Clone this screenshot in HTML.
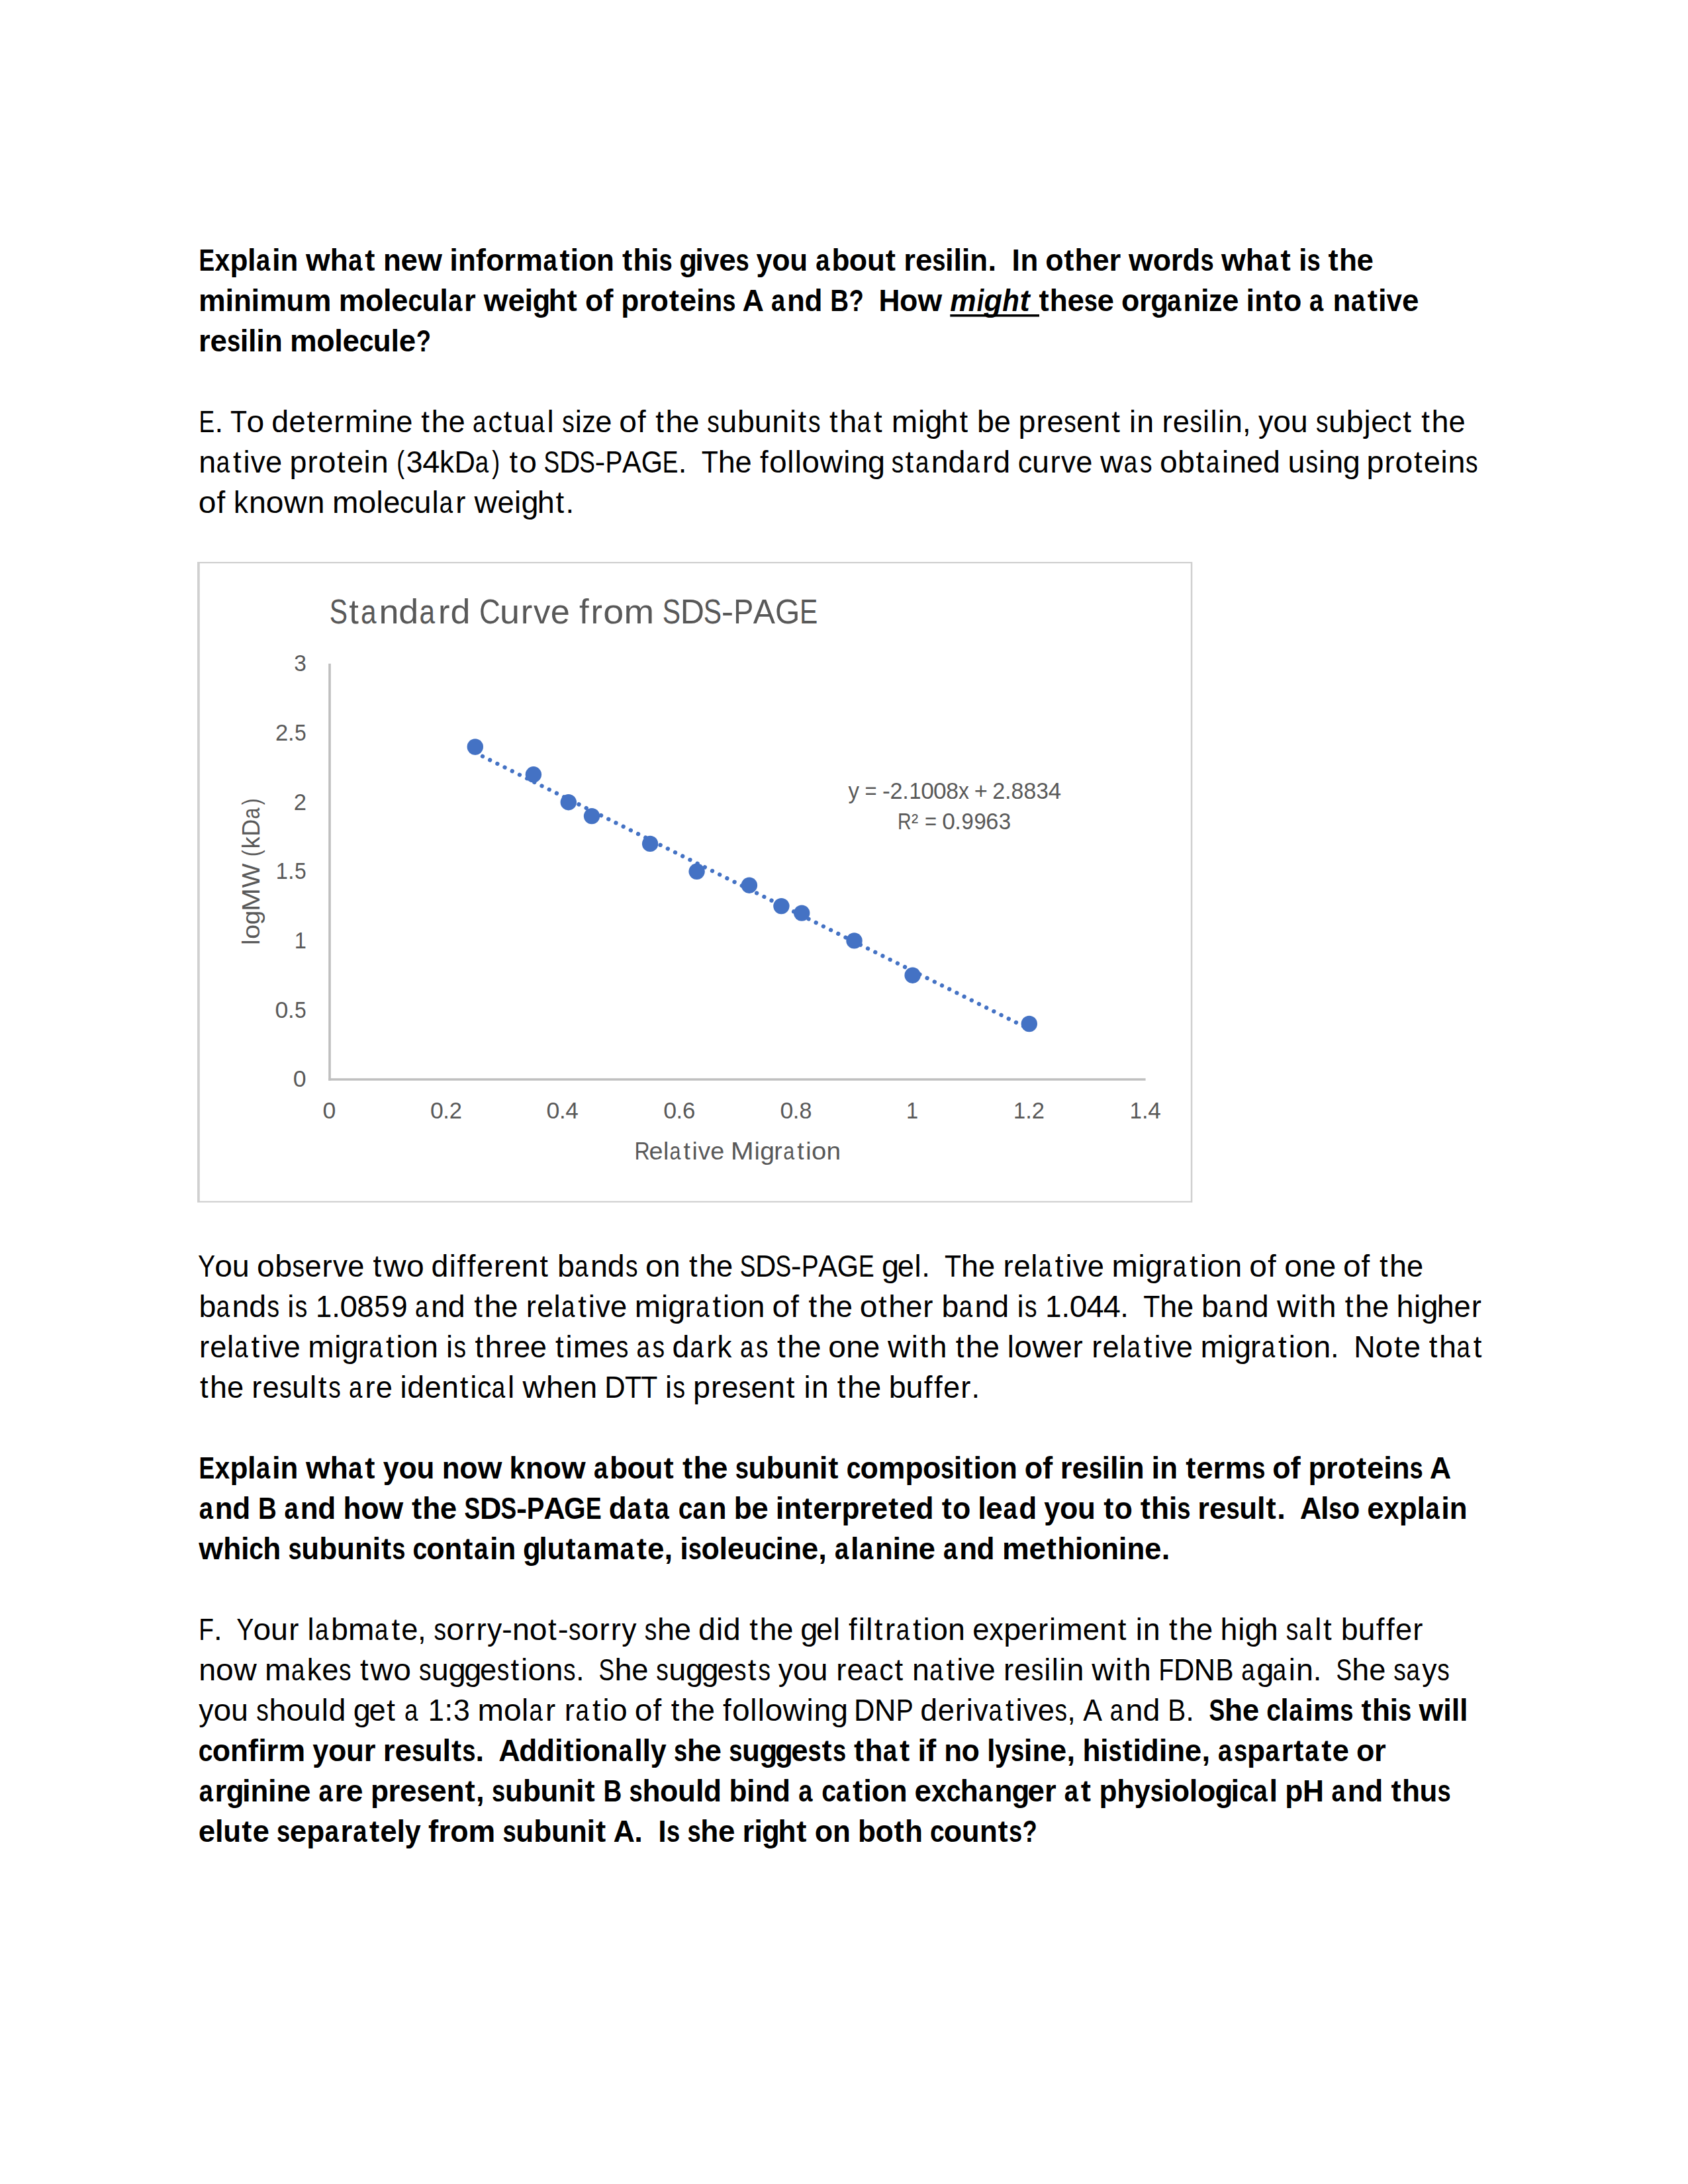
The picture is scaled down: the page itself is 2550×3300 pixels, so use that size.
<!DOCTYPE html><html><head><meta charset="utf-8"><title>Resilin</title><style>html,body{margin:0;padding:0;background:#fff;}svg{display:block;}text{font-family:"Liberation Sans",sans-serif;font-kerning:none;font-variant-ligatures:none;font-feature-settings:"liga" 0,"kern" 0;}</style></head><body>
<svg width="2550" height="3300" viewBox="0 0 2550 3300">
<rect x="0" y="0" width="2550" height="3300" fill="#fff"/>
<text y="408.80" font-size="45.50" font-weight="bold" fill="#000"><tspan x="300.5" textLength="23.67" lengthAdjust="spacingAndGlyphs">E</tspan><tspan x="324.5" textLength="22.77" lengthAdjust="spacingAndGlyphs">x</tspan><tspan x="347.5" textLength="27.02" lengthAdjust="spacingAndGlyphs">p</tspan><tspan x="374.1" textLength="12.56" lengthAdjust="spacingAndGlyphs">l</tspan><tspan x="387.1" textLength="21.19" lengthAdjust="spacingAndGlyphs">a</tspan><tspan x="411.0" textLength="12.64" lengthAdjust="spacingAndGlyphs">i</tspan><tspan x="423.6" textLength="26.81" lengthAdjust="spacingAndGlyphs">n</tspan><tspan x="461.9" textLength="36.68" lengthAdjust="spacingAndGlyphs">w</tspan><tspan x="498.8" textLength="27.02" lengthAdjust="spacingAndGlyphs">h</tspan><tspan x="526.3" textLength="21.19" lengthAdjust="spacingAndGlyphs">a</tspan><tspan x="551.3" textLength="15.15" lengthAdjust="spacingAndGlyphs">t</tspan><tspan x="579.1" textLength="26.81" lengthAdjust="spacingAndGlyphs">n</tspan><tspan x="605.6" textLength="25.47" lengthAdjust="spacingAndGlyphs">e</tspan><tspan x="631.3" textLength="36.68" lengthAdjust="spacingAndGlyphs">w</tspan><tspan x="679.3" textLength="12.64" lengthAdjust="spacingAndGlyphs">i</tspan><tspan x="692.0" textLength="26.81" lengthAdjust="spacingAndGlyphs">n</tspan><tspan x="718.7" textLength="15.15" lengthAdjust="spacingAndGlyphs">f</tspan><tspan x="734.2" textLength="27.35" lengthAdjust="spacingAndGlyphs">o</tspan><tspan x="761.2" textLength="17.71" lengthAdjust="spacingAndGlyphs">r</tspan><tspan x="779.2" textLength="40.69" lengthAdjust="spacingAndGlyphs">m</tspan><tspan x="820.5" textLength="21.19" lengthAdjust="spacingAndGlyphs">a</tspan><tspan x="845.4" textLength="15.15" lengthAdjust="spacingAndGlyphs">t</tspan><tspan x="861.6" textLength="12.64" lengthAdjust="spacingAndGlyphs">i</tspan><tspan x="873.9" textLength="27.35" lengthAdjust="spacingAndGlyphs">o</tspan><tspan x="901.1" textLength="26.81" lengthAdjust="spacingAndGlyphs">n</tspan><tspan x="940.1" textLength="15.15" lengthAdjust="spacingAndGlyphs">t</tspan><tspan x="956.4" textLength="27.02" lengthAdjust="spacingAndGlyphs">h</tspan><tspan x="983.1" textLength="12.64" lengthAdjust="spacingAndGlyphs">i</tspan><tspan x="995.5" textLength="20.20" lengthAdjust="spacingAndGlyphs">s</tspan><tspan x="1026.2" textLength="26.75" lengthAdjust="spacingAndGlyphs">g</tspan><tspan x="1050.3" textLength="12.64" lengthAdjust="spacingAndGlyphs">i</tspan><tspan x="1062.9" textLength="23.47" lengthAdjust="spacingAndGlyphs">v</tspan><tspan x="1086.2" textLength="25.47" lengthAdjust="spacingAndGlyphs">e</tspan><tspan x="1111.6" textLength="20.20" lengthAdjust="spacingAndGlyphs">s</tspan><tspan x="1142.6" textLength="23.93" lengthAdjust="spacingAndGlyphs">y</tspan><tspan x="1166.3" textLength="27.35" lengthAdjust="spacingAndGlyphs">o</tspan><tspan x="1193.3" textLength="26.81" lengthAdjust="spacingAndGlyphs">u</tspan><tspan x="1232.2" textLength="21.19" lengthAdjust="spacingAndGlyphs">a</tspan><tspan x="1256.4" textLength="26.99" lengthAdjust="spacingAndGlyphs">b</tspan><tspan x="1282.8" textLength="27.35" lengthAdjust="spacingAndGlyphs">o</tspan><tspan x="1309.9" textLength="26.81" lengthAdjust="spacingAndGlyphs">u</tspan><tspan x="1337.7" textLength="15.15" lengthAdjust="spacingAndGlyphs">t</tspan><tspan x="1365.3" textLength="17.71" lengthAdjust="spacingAndGlyphs">r</tspan><tspan x="1383.0" textLength="25.47" lengthAdjust="spacingAndGlyphs">e</tspan><tspan x="1408.3" textLength="20.20" lengthAdjust="spacingAndGlyphs">s</tspan><tspan x="1428.1" textLength="12.64" lengthAdjust="spacingAndGlyphs">i</tspan><tspan x="1440.5" textLength="12.56" lengthAdjust="spacingAndGlyphs">l</tspan><tspan x="1452.7" textLength="12.64" lengthAdjust="spacingAndGlyphs">i</tspan><tspan x="1465.3" textLength="26.81" lengthAdjust="spacingAndGlyphs">n</tspan><tspan x="1492.4" textLength="12.64" lengthAdjust="spacingAndGlyphs">.</tspan><tspan x="1528.4" textLength="12.43" lengthAdjust="spacingAndGlyphs">I</tspan><tspan x="1541.4" textLength="26.81" lengthAdjust="spacingAndGlyphs">n</tspan><tspan x="1579.2" textLength="27.35" lengthAdjust="spacingAndGlyphs">o</tspan><tspan x="1607.3" textLength="15.15" lengthAdjust="spacingAndGlyphs">t</tspan><tspan x="1623.6" textLength="27.02" lengthAdjust="spacingAndGlyphs">h</tspan><tspan x="1650.2" textLength="25.47" lengthAdjust="spacingAndGlyphs">e</tspan><tspan x="1675.5" textLength="17.71" lengthAdjust="spacingAndGlyphs">r</tspan><tspan x="1705.0" textLength="36.68" lengthAdjust="spacingAndGlyphs">w</tspan><tspan x="1741.7" textLength="27.35" lengthAdjust="spacingAndGlyphs">o</tspan><tspan x="1768.7" textLength="17.71" lengthAdjust="spacingAndGlyphs">r</tspan><tspan x="1786.3" textLength="26.99" lengthAdjust="spacingAndGlyphs">d</tspan><tspan x="1813.4" textLength="20.20" lengthAdjust="spacingAndGlyphs">s</tspan><tspan x="1845.0" textLength="36.68" lengthAdjust="spacingAndGlyphs">w</tspan><tspan x="1881.9" textLength="27.02" lengthAdjust="spacingAndGlyphs">h</tspan><tspan x="1909.5" textLength="21.19" lengthAdjust="spacingAndGlyphs">a</tspan><tspan x="1934.4" textLength="15.15" lengthAdjust="spacingAndGlyphs">t</tspan><tspan x="1961.9" textLength="12.64" lengthAdjust="spacingAndGlyphs">i</tspan><tspan x="1974.4" textLength="20.20" lengthAdjust="spacingAndGlyphs">s</tspan><tspan x="2006.6" textLength="15.15" lengthAdjust="spacingAndGlyphs">t</tspan><tspan x="2022.9" textLength="27.02" lengthAdjust="spacingAndGlyphs">h</tspan><tspan x="2049.6" textLength="25.47" lengthAdjust="spacingAndGlyphs">e</tspan></text>
<text y="469.80" font-size="45.50" font-weight="bold" fill="#000"><tspan x="300.1" textLength="40.69" lengthAdjust="spacingAndGlyphs">m</tspan><tspan x="340.5" textLength="12.64" lengthAdjust="spacingAndGlyphs">i</tspan><tspan x="353.1" textLength="26.81" lengthAdjust="spacingAndGlyphs">n</tspan><tspan x="379.6" textLength="12.64" lengthAdjust="spacingAndGlyphs">i</tspan><tspan x="392.2" textLength="40.69" lengthAdjust="spacingAndGlyphs">m</tspan><tspan x="432.6" textLength="26.81" lengthAdjust="spacingAndGlyphs">u</tspan><tspan x="459.7" textLength="40.69" lengthAdjust="spacingAndGlyphs">m</tspan><tspan x="511.7" textLength="40.69" lengthAdjust="spacingAndGlyphs">m</tspan><tspan x="552.0" textLength="27.35" lengthAdjust="spacingAndGlyphs">o</tspan><tspan x="579.0" textLength="12.56" lengthAdjust="spacingAndGlyphs">l</tspan><tspan x="591.1" textLength="25.47" lengthAdjust="spacingAndGlyphs">e</tspan><tspan x="616.4" textLength="21.74" lengthAdjust="spacingAndGlyphs">c</tspan><tspan x="637.4" textLength="26.81" lengthAdjust="spacingAndGlyphs">u</tspan><tspan x="664.2" textLength="12.56" lengthAdjust="spacingAndGlyphs">l</tspan><tspan x="677.3" textLength="21.19" lengthAdjust="spacingAndGlyphs">a</tspan><tspan x="701.1" textLength="17.71" lengthAdjust="spacingAndGlyphs">r</tspan><tspan x="730.7" textLength="36.68" lengthAdjust="spacingAndGlyphs">w</tspan><tspan x="767.4" textLength="25.47" lengthAdjust="spacingAndGlyphs">e</tspan><tspan x="792.6" textLength="12.64" lengthAdjust="spacingAndGlyphs">i</tspan><tspan x="804.4" textLength="26.75" lengthAdjust="spacingAndGlyphs">g</tspan><tspan x="828.7" textLength="27.02" lengthAdjust="spacingAndGlyphs">h</tspan><tspan x="856.5" textLength="15.15" lengthAdjust="spacingAndGlyphs">t</tspan><tspan x="884.0" textLength="27.35" lengthAdjust="spacingAndGlyphs">o</tspan><tspan x="911.2" textLength="15.15" lengthAdjust="spacingAndGlyphs">f</tspan><tspan x="938.3" textLength="27.02" lengthAdjust="spacingAndGlyphs">p</tspan><tspan x="964.9" textLength="17.71" lengthAdjust="spacingAndGlyphs">r</tspan><tspan x="982.6" textLength="27.35" lengthAdjust="spacingAndGlyphs">o</tspan><tspan x="1010.7" textLength="15.15" lengthAdjust="spacingAndGlyphs">t</tspan><tspan x="1026.8" textLength="25.47" lengthAdjust="spacingAndGlyphs">e</tspan><tspan x="1052.0" textLength="12.64" lengthAdjust="spacingAndGlyphs">i</tspan><tspan x="1064.6" textLength="26.81" lengthAdjust="spacingAndGlyphs">n</tspan><tspan x="1091.3" textLength="20.20" lengthAdjust="spacingAndGlyphs">s</tspan><tspan x="1121.6" textLength="32.48" lengthAdjust="spacingAndGlyphs">A</tspan><tspan x="1164.9" textLength="21.19" lengthAdjust="spacingAndGlyphs">a</tspan><tspan x="1189.0" textLength="26.81" lengthAdjust="spacingAndGlyphs">n</tspan><tspan x="1215.4" textLength="26.99" lengthAdjust="spacingAndGlyphs">d</tspan><tspan x="1254.2" textLength="27.81" lengthAdjust="spacingAndGlyphs">B</tspan><tspan x="1282.6" textLength="22.22" lengthAdjust="spacingAndGlyphs">?</tspan><tspan x="1327.4" textLength="31.97" lengthAdjust="spacingAndGlyphs">H</tspan><tspan x="1358.9" textLength="27.35" lengthAdjust="spacingAndGlyphs">o</tspan><tspan x="1386.4" textLength="36.68" lengthAdjust="spacingAndGlyphs">w</tspan></text>
<text y="469.80" font-size="45.50" font-weight="bold" font-style="italic" fill="#000"><tspan x="1435.2" textLength="39.36" lengthAdjust="spacingAndGlyphs">m</tspan><tspan x="1475.8" textLength="10.47" lengthAdjust="spacingAndGlyphs">i</tspan><tspan x="1486.4" textLength="27.47" lengthAdjust="spacingAndGlyphs">g</tspan><tspan x="1514.2" textLength="25.62" lengthAdjust="spacingAndGlyphs">h</tspan><tspan x="1540.4" textLength="15.15" lengthAdjust="spacingAndGlyphs">t</tspan></text>
<rect x="1435.3" y="475" width="134.7" height="3.6" fill="#000"/>
<text y="469.80" font-size="45.50" font-weight="bold" fill="#000"><tspan x="1569.4" textLength="15.15" lengthAdjust="spacingAndGlyphs">t</tspan><tspan x="1585.8" textLength="27.02" lengthAdjust="spacingAndGlyphs">h</tspan><tspan x="1612.4" textLength="25.47" lengthAdjust="spacingAndGlyphs">e</tspan><tspan x="1637.8" textLength="20.20" lengthAdjust="spacingAndGlyphs">s</tspan><tspan x="1657.5" textLength="25.47" lengthAdjust="spacingAndGlyphs">e</tspan><tspan x="1694.0" textLength="27.35" lengthAdjust="spacingAndGlyphs">o</tspan><tspan x="1721.0" textLength="17.71" lengthAdjust="spacingAndGlyphs">r</tspan><tspan x="1738.2" textLength="26.75" lengthAdjust="spacingAndGlyphs">g</tspan><tspan x="1763.3" textLength="21.19" lengthAdjust="spacingAndGlyphs">a</tspan><tspan x="1787.4" textLength="26.81" lengthAdjust="spacingAndGlyphs">n</tspan><tspan x="1813.9" textLength="12.64" lengthAdjust="spacingAndGlyphs">i</tspan><tspan x="1826.1" textLength="20.33" lengthAdjust="spacingAndGlyphs">z</tspan><tspan x="1846.0" textLength="25.47" lengthAdjust="spacingAndGlyphs">e</tspan><tspan x="1882.5" textLength="12.64" lengthAdjust="spacingAndGlyphs">i</tspan><tspan x="1895.2" textLength="26.81" lengthAdjust="spacingAndGlyphs">n</tspan><tspan x="1922.8" textLength="15.15" lengthAdjust="spacingAndGlyphs">t</tspan><tspan x="1938.9" textLength="27.35" lengthAdjust="spacingAndGlyphs">o</tspan><tspan x="1978.0" textLength="21.19" lengthAdjust="spacingAndGlyphs">a</tspan><tspan x="2013.5" textLength="26.81" lengthAdjust="spacingAndGlyphs">n</tspan><tspan x="2040.9" textLength="21.19" lengthAdjust="spacingAndGlyphs">a</tspan><tspan x="2065.8" textLength="15.15" lengthAdjust="spacingAndGlyphs">t</tspan><tspan x="2082.0" textLength="12.64" lengthAdjust="spacingAndGlyphs">i</tspan><tspan x="2094.6" textLength="23.47" lengthAdjust="spacingAndGlyphs">v</tspan><tspan x="2117.9" textLength="25.47" lengthAdjust="spacingAndGlyphs">e</tspan></text>
<text y="530.80" font-size="45.50" font-weight="bold" fill="#000"><tspan x="299.9" textLength="17.71" lengthAdjust="spacingAndGlyphs">r</tspan><tspan x="317.5" textLength="25.47" lengthAdjust="spacingAndGlyphs">e</tspan><tspan x="342.9" textLength="20.20" lengthAdjust="spacingAndGlyphs">s</tspan><tspan x="362.7" textLength="12.64" lengthAdjust="spacingAndGlyphs">i</tspan><tspan x="375.1" textLength="12.56" lengthAdjust="spacingAndGlyphs">l</tspan><tspan x="387.3" textLength="12.64" lengthAdjust="spacingAndGlyphs">i</tspan><tspan x="399.9" textLength="26.81" lengthAdjust="spacingAndGlyphs">n</tspan><tspan x="438.0" textLength="40.69" lengthAdjust="spacingAndGlyphs">m</tspan><tspan x="478.3" textLength="27.35" lengthAdjust="spacingAndGlyphs">o</tspan><tspan x="505.3" textLength="12.56" lengthAdjust="spacingAndGlyphs">l</tspan><tspan x="517.4" textLength="25.47" lengthAdjust="spacingAndGlyphs">e</tspan><tspan x="542.7" textLength="21.74" lengthAdjust="spacingAndGlyphs">c</tspan><tspan x="563.7" textLength="26.81" lengthAdjust="spacingAndGlyphs">u</tspan><tspan x="590.5" textLength="12.56" lengthAdjust="spacingAndGlyphs">l</tspan><tspan x="602.7" textLength="25.47" lengthAdjust="spacingAndGlyphs">e</tspan><tspan x="628.8" textLength="22.22" lengthAdjust="spacingAndGlyphs">?</tspan></text>
<text y="652.80" font-size="45.50" fill="#000"><tspan x="300.4" textLength="23.67" lengthAdjust="spacingAndGlyphs">E</tspan><tspan x="324.4" textLength="12.64" lengthAdjust="spacingAndGlyphs">.</tspan><tspan x="348.0" textLength="25.06" lengthAdjust="spacingAndGlyphs">T</tspan><tspan x="372.5" textLength="26.74" lengthAdjust="spacingAndGlyphs">o</tspan><tspan x="410.2" textLength="25.91" lengthAdjust="spacingAndGlyphs">d</tspan><tspan x="436.6" textLength="25.17" lengthAdjust="spacingAndGlyphs">e</tspan><tspan x="463.4" textLength="12.64" lengthAdjust="spacingAndGlyphs">t</tspan><tspan x="478.2" textLength="25.17" lengthAdjust="spacingAndGlyphs">e</tspan><tspan x="504.3" textLength="15.15" lengthAdjust="spacingAndGlyphs">r</tspan><tspan x="521.0" textLength="39.42" lengthAdjust="spacingAndGlyphs">m</tspan><tspan x="561.2" textLength="10.11" lengthAdjust="spacingAndGlyphs">i</tspan><tspan x="572.3" textLength="25.92" lengthAdjust="spacingAndGlyphs">n</tspan><tspan x="598.2" textLength="25.17" lengthAdjust="spacingAndGlyphs">e</tspan><tspan x="636.3" textLength="12.64" lengthAdjust="spacingAndGlyphs">t</tspan><tspan x="651.4" textLength="26.01" lengthAdjust="spacingAndGlyphs">h</tspan><tspan x="677.4" textLength="25.17" lengthAdjust="spacingAndGlyphs">e</tspan><tspan x="714.1" textLength="20.38" lengthAdjust="spacingAndGlyphs">a</tspan><tspan x="737.5" textLength="21.43" lengthAdjust="spacingAndGlyphs">c</tspan><tspan x="760.6" textLength="12.64" lengthAdjust="spacingAndGlyphs">t</tspan><tspan x="775.5" textLength="25.92" lengthAdjust="spacingAndGlyphs">u</tspan><tspan x="802.3" textLength="20.38" lengthAdjust="spacingAndGlyphs">a</tspan><tspan x="826.4" textLength="10.11" lengthAdjust="spacingAndGlyphs">l</tspan><tspan x="849.2" textLength="18.53" lengthAdjust="spacingAndGlyphs">s</tspan><tspan x="868.7" textLength="10.11" lengthAdjust="spacingAndGlyphs">i</tspan><tspan x="879.3" textLength="20.53" lengthAdjust="spacingAndGlyphs">z</tspan><tspan x="899.2" textLength="25.17" lengthAdjust="spacingAndGlyphs">e</tspan><tspan x="935.3" textLength="26.74" lengthAdjust="spacingAndGlyphs">o</tspan><tspan x="962.9" textLength="12.64" lengthAdjust="spacingAndGlyphs">f</tspan><tspan x="990.2" textLength="12.64" lengthAdjust="spacingAndGlyphs">t</tspan><tspan x="1005.4" textLength="26.01" lengthAdjust="spacingAndGlyphs">h</tspan><tspan x="1031.3" textLength="25.17" lengthAdjust="spacingAndGlyphs">e</tspan><tspan x="1068.3" textLength="18.53" lengthAdjust="spacingAndGlyphs">s</tspan><tspan x="1087.2" textLength="25.92" lengthAdjust="spacingAndGlyphs">u</tspan><tspan x="1113.9" textLength="25.91" lengthAdjust="spacingAndGlyphs">b</tspan><tspan x="1139.7" textLength="25.92" lengthAdjust="spacingAndGlyphs">u</tspan><tspan x="1166.3" textLength="25.92" lengthAdjust="spacingAndGlyphs">n</tspan><tspan x="1192.9" textLength="10.11" lengthAdjust="spacingAndGlyphs">i</tspan><tspan x="1205.5" textLength="12.64" lengthAdjust="spacingAndGlyphs">t</tspan><tspan x="1221.1" textLength="18.53" lengthAdjust="spacingAndGlyphs">s</tspan><tspan x="1253.1" textLength="12.64" lengthAdjust="spacingAndGlyphs">t</tspan><tspan x="1268.3" textLength="26.01" lengthAdjust="spacingAndGlyphs">h</tspan><tspan x="1294.8" textLength="20.38" lengthAdjust="spacingAndGlyphs">a</tspan><tspan x="1320.1" textLength="12.64" lengthAdjust="spacingAndGlyphs">t</tspan><tspan x="1346.8" textLength="39.42" lengthAdjust="spacingAndGlyphs">m</tspan><tspan x="1386.9" textLength="10.11" lengthAdjust="spacingAndGlyphs">i</tspan><tspan x="1397.3" textLength="26.09" lengthAdjust="spacingAndGlyphs">g</tspan><tspan x="1421.5" textLength="26.01" lengthAdjust="spacingAndGlyphs">h</tspan><tspan x="1449.4" textLength="12.64" lengthAdjust="spacingAndGlyphs">t</tspan><tspan x="1476.1" textLength="25.91" lengthAdjust="spacingAndGlyphs">b</tspan><tspan x="1501.8" textLength="25.17" lengthAdjust="spacingAndGlyphs">e</tspan><tspan x="1538.5" textLength="26.00" lengthAdjust="spacingAndGlyphs">p</tspan><tspan x="1565.4" textLength="15.15" lengthAdjust="spacingAndGlyphs">r</tspan><tspan x="1581.6" textLength="25.17" lengthAdjust="spacingAndGlyphs">e</tspan><tspan x="1607.3" textLength="18.53" lengthAdjust="spacingAndGlyphs">s</tspan><tspan x="1626.1" textLength="25.17" lengthAdjust="spacingAndGlyphs">e</tspan><tspan x="1651.4" textLength="25.92" lengthAdjust="spacingAndGlyphs">n</tspan><tspan x="1679.2" textLength="12.64" lengthAdjust="spacingAndGlyphs">t</tspan><tspan x="1706.0" textLength="10.11" lengthAdjust="spacingAndGlyphs">i</tspan><tspan x="1717.2" textLength="25.92" lengthAdjust="spacingAndGlyphs">n</tspan><tspan x="1755.5" textLength="15.15" lengthAdjust="spacingAndGlyphs">r</tspan><tspan x="1771.8" textLength="25.17" lengthAdjust="spacingAndGlyphs">e</tspan><tspan x="1797.4" textLength="18.53" lengthAdjust="spacingAndGlyphs">s</tspan><tspan x="1816.9" textLength="10.11" lengthAdjust="spacingAndGlyphs">i</tspan><tspan x="1828.4" textLength="10.11" lengthAdjust="spacingAndGlyphs">l</tspan><tspan x="1839.9" textLength="10.11" lengthAdjust="spacingAndGlyphs">i</tspan><tspan x="1851.0" textLength="25.92" lengthAdjust="spacingAndGlyphs">n</tspan><tspan x="1877.0" textLength="12.64" lengthAdjust="spacingAndGlyphs">,</tspan><tspan x="1900.9" textLength="22.22" lengthAdjust="spacingAndGlyphs">y</tspan><tspan x="1923.2" textLength="26.74" lengthAdjust="spacingAndGlyphs">o</tspan><tspan x="1949.8" textLength="25.92" lengthAdjust="spacingAndGlyphs">u</tspan><tspan x="1988.0" textLength="18.53" lengthAdjust="spacingAndGlyphs">s</tspan><tspan x="2006.9" textLength="25.92" lengthAdjust="spacingAndGlyphs">u</tspan><tspan x="2033.7" textLength="25.91" lengthAdjust="spacingAndGlyphs">b</tspan><tspan x="2060.4" textLength="10.11" lengthAdjust="spacingAndGlyphs">j</tspan><tspan x="2071.3" textLength="25.17" lengthAdjust="spacingAndGlyphs">e</tspan><tspan x="2096.1" textLength="21.43" lengthAdjust="spacingAndGlyphs">c</tspan><tspan x="2119.3" textLength="12.64" lengthAdjust="spacingAndGlyphs">t</tspan><tspan x="2147.3" textLength="12.64" lengthAdjust="spacingAndGlyphs">t</tspan><tspan x="2162.5" textLength="26.01" lengthAdjust="spacingAndGlyphs">h</tspan><tspan x="2188.4" textLength="25.17" lengthAdjust="spacingAndGlyphs">e</tspan></text>
<text y="713.80" font-size="45.50" fill="#000"><tspan x="300.3" textLength="25.92" lengthAdjust="spacingAndGlyphs">n</tspan><tspan x="326.8" textLength="20.38" lengthAdjust="spacingAndGlyphs">a</tspan><tspan x="352.1" textLength="12.64" lengthAdjust="spacingAndGlyphs">t</tspan><tspan x="367.6" textLength="10.11" lengthAdjust="spacingAndGlyphs">i</tspan><tspan x="378.8" textLength="21.96" lengthAdjust="spacingAndGlyphs">v</tspan><tspan x="400.9" textLength="25.17" lengthAdjust="spacingAndGlyphs">e</tspan><tspan x="437.6" textLength="26.00" lengthAdjust="spacingAndGlyphs">p</tspan><tspan x="464.6" textLength="15.15" lengthAdjust="spacingAndGlyphs">r</tspan><tspan x="480.7" textLength="26.74" lengthAdjust="spacingAndGlyphs">o</tspan><tspan x="509.1" textLength="12.64" lengthAdjust="spacingAndGlyphs">t</tspan><tspan x="523.9" textLength="25.17" lengthAdjust="spacingAndGlyphs">e</tspan><tspan x="549.6" textLength="10.11" lengthAdjust="spacingAndGlyphs">i</tspan><tspan x="560.7" textLength="25.92" lengthAdjust="spacingAndGlyphs">n</tspan><tspan x="599.3" textLength="11.82" lengthAdjust="spacingAndGlyphs">(</tspan><tspan x="613.7" textLength="24.77" lengthAdjust="spacingAndGlyphs">3</tspan><tspan x="638.2" textLength="26.11" lengthAdjust="spacingAndGlyphs">4</tspan><tspan x="664.0" textLength="21.88" lengthAdjust="spacingAndGlyphs">k</tspan><tspan x="686.4" textLength="31.35" lengthAdjust="spacingAndGlyphs">D</tspan><tspan x="717.8" textLength="20.38" lengthAdjust="spacingAndGlyphs">a</tspan><tspan x="743.3" textLength="11.82" lengthAdjust="spacingAndGlyphs">)</tspan><tspan x="769.6" textLength="12.64" lengthAdjust="spacingAndGlyphs">t</tspan><tspan x="784.3" textLength="26.74" lengthAdjust="spacingAndGlyphs">o</tspan><tspan x="821.6" textLength="23.67" lengthAdjust="spacingAndGlyphs">S</tspan><tspan x="844.9" textLength="31.35" lengthAdjust="spacingAndGlyphs">D</tspan><tspan x="875.3" textLength="23.67" lengthAdjust="spacingAndGlyphs">S</tspan><tspan x="898.5" textLength="15.92" lengthAdjust="spacingAndGlyphs">-</tspan><tspan x="914.5" textLength="25.91" lengthAdjust="spacingAndGlyphs">P</tspan><tspan x="940.1" textLength="28.73" lengthAdjust="spacingAndGlyphs">A</tspan><tspan x="968.7" textLength="32.23" lengthAdjust="spacingAndGlyphs">G</tspan><tspan x="1000.8" textLength="23.67" lengthAdjust="spacingAndGlyphs">E</tspan><tspan x="1024.8" textLength="12.64" lengthAdjust="spacingAndGlyphs">.</tspan><tspan x="1059.7" textLength="25.06" lengthAdjust="spacingAndGlyphs">T</tspan><tspan x="1084.7" textLength="26.01" lengthAdjust="spacingAndGlyphs">h</tspan><tspan x="1110.6" textLength="25.17" lengthAdjust="spacingAndGlyphs">e</tspan><tspan x="1148.0" textLength="12.64" lengthAdjust="spacingAndGlyphs">f</tspan><tspan x="1162.0" textLength="26.74" lengthAdjust="spacingAndGlyphs">o</tspan><tspan x="1189.2" textLength="10.11" lengthAdjust="spacingAndGlyphs">l</tspan><tspan x="1200.7" textLength="10.11" lengthAdjust="spacingAndGlyphs">l</tspan><tspan x="1211.3" textLength="26.74" lengthAdjust="spacingAndGlyphs">o</tspan><tspan x="1238.4" textLength="34.53" lengthAdjust="spacingAndGlyphs">w</tspan><tspan x="1274.2" textLength="10.11" lengthAdjust="spacingAndGlyphs">i</tspan><tspan x="1285.4" textLength="25.92" lengthAdjust="spacingAndGlyphs">n</tspan><tspan x="1310.9" textLength="26.09" lengthAdjust="spacingAndGlyphs">g</tspan><tspan x="1346.8" textLength="18.53" lengthAdjust="spacingAndGlyphs">s</tspan><tspan x="1367.6" textLength="12.64" lengthAdjust="spacingAndGlyphs">t</tspan><tspan x="1383.0" textLength="20.38" lengthAdjust="spacingAndGlyphs">a</tspan><tspan x="1406.7" textLength="25.92" lengthAdjust="spacingAndGlyphs">n</tspan><tspan x="1432.5" textLength="25.91" lengthAdjust="spacingAndGlyphs">d</tspan><tspan x="1459.5" textLength="20.38" lengthAdjust="spacingAndGlyphs">a</tspan><tspan x="1484.0" textLength="15.15" lengthAdjust="spacingAndGlyphs">r</tspan><tspan x="1500.2" textLength="25.91" lengthAdjust="spacingAndGlyphs">d</tspan><tspan x="1537.8" textLength="21.43" lengthAdjust="spacingAndGlyphs">c</tspan><tspan x="1559.1" textLength="25.92" lengthAdjust="spacingAndGlyphs">u</tspan><tspan x="1586.4" textLength="15.15" lengthAdjust="spacingAndGlyphs">r</tspan><tspan x="1603.1" textLength="21.96" lengthAdjust="spacingAndGlyphs">v</tspan><tspan x="1625.2" textLength="25.17" lengthAdjust="spacingAndGlyphs">e</tspan><tspan x="1662.1" textLength="34.53" lengthAdjust="spacingAndGlyphs">w</tspan><tspan x="1697.8" textLength="20.38" lengthAdjust="spacingAndGlyphs">a</tspan><tspan x="1721.9" textLength="18.53" lengthAdjust="spacingAndGlyphs">s</tspan><tspan x="1751.9" textLength="26.74" lengthAdjust="spacingAndGlyphs">o</tspan><tspan x="1779.0" textLength="25.91" lengthAdjust="spacingAndGlyphs">b</tspan><tspan x="1806.6" textLength="12.64" lengthAdjust="spacingAndGlyphs">t</tspan><tspan x="1822.0" textLength="20.38" lengthAdjust="spacingAndGlyphs">a</tspan><tspan x="1846.1" textLength="10.11" lengthAdjust="spacingAndGlyphs">i</tspan><tspan x="1857.2" textLength="25.92" lengthAdjust="spacingAndGlyphs">n</tspan><tspan x="1883.1" textLength="25.17" lengthAdjust="spacingAndGlyphs">e</tspan><tspan x="1907.9" textLength="25.91" lengthAdjust="spacingAndGlyphs">d</tspan><tspan x="1945.6" textLength="25.92" lengthAdjust="spacingAndGlyphs">u</tspan><tspan x="1972.6" textLength="18.53" lengthAdjust="spacingAndGlyphs">s</tspan><tspan x="1992.1" textLength="10.11" lengthAdjust="spacingAndGlyphs">i</tspan><tspan x="2003.2" textLength="25.92" lengthAdjust="spacingAndGlyphs">n</tspan><tspan x="2028.8" textLength="26.09" lengthAdjust="spacingAndGlyphs">g</tspan><tspan x="2064.4" textLength="26.00" lengthAdjust="spacingAndGlyphs">p</tspan><tspan x="2091.4" textLength="15.15" lengthAdjust="spacingAndGlyphs">r</tspan><tspan x="2107.5" textLength="26.74" lengthAdjust="spacingAndGlyphs">o</tspan><tspan x="2135.9" textLength="12.64" lengthAdjust="spacingAndGlyphs">t</tspan><tspan x="2150.7" textLength="25.17" lengthAdjust="spacingAndGlyphs">e</tspan><tspan x="2176.4" textLength="10.11" lengthAdjust="spacingAndGlyphs">i</tspan><tspan x="2187.5" textLength="25.92" lengthAdjust="spacingAndGlyphs">n</tspan><tspan x="2214.1" textLength="18.53" lengthAdjust="spacingAndGlyphs">s</tspan></text>
<text y="774.80" font-size="45.50" fill="#000"><tspan x="299.8" textLength="26.74" lengthAdjust="spacingAndGlyphs">o</tspan><tspan x="327.4" textLength="12.64" lengthAdjust="spacingAndGlyphs">f</tspan><tspan x="353.1" textLength="21.88" lengthAdjust="spacingAndGlyphs">k</tspan><tspan x="376.0" textLength="25.92" lengthAdjust="spacingAndGlyphs">n</tspan><tspan x="401.7" textLength="26.74" lengthAdjust="spacingAndGlyphs">o</tspan><tspan x="428.9" textLength="34.53" lengthAdjust="spacingAndGlyphs">w</tspan><tspan x="464.4" textLength="25.92" lengthAdjust="spacingAndGlyphs">n</tspan><tspan x="502.1" textLength="39.42" lengthAdjust="spacingAndGlyphs">m</tspan><tspan x="541.4" textLength="26.74" lengthAdjust="spacingAndGlyphs">o</tspan><tspan x="568.6" textLength="10.11" lengthAdjust="spacingAndGlyphs">l</tspan><tspan x="579.3" textLength="25.17" lengthAdjust="spacingAndGlyphs">e</tspan><tspan x="604.1" textLength="21.43" lengthAdjust="spacingAndGlyphs">c</tspan><tspan x="625.4" textLength="25.92" lengthAdjust="spacingAndGlyphs">u</tspan><tspan x="652.4" textLength="10.11" lengthAdjust="spacingAndGlyphs">l</tspan><tspan x="663.7" textLength="20.38" lengthAdjust="spacingAndGlyphs">a</tspan><tspan x="688.2" textLength="15.15" lengthAdjust="spacingAndGlyphs">r</tspan><tspan x="716.4" textLength="34.53" lengthAdjust="spacingAndGlyphs">w</tspan><tspan x="751.5" textLength="25.17" lengthAdjust="spacingAndGlyphs">e</tspan><tspan x="777.1" textLength="10.11" lengthAdjust="spacingAndGlyphs">i</tspan><tspan x="787.5" textLength="26.09" lengthAdjust="spacingAndGlyphs">g</tspan><tspan x="811.7" textLength="26.01" lengthAdjust="spacingAndGlyphs">h</tspan><tspan x="839.6" textLength="12.64" lengthAdjust="spacingAndGlyphs">t</tspan><tspan x="854.5" textLength="12.64" lengthAdjust="spacingAndGlyphs">.</tspan></text>
<text y="1928.80" font-size="45.50" fill="#000"><tspan x="299.1" textLength="26.08" lengthAdjust="spacingAndGlyphs">Y</tspan><tspan x="324.2" textLength="26.74" lengthAdjust="spacingAndGlyphs">o</tspan><tspan x="350.8" textLength="25.92" lengthAdjust="spacingAndGlyphs">u</tspan><tspan x="388.1" textLength="26.74" lengthAdjust="spacingAndGlyphs">o</tspan><tspan x="415.2" textLength="25.91" lengthAdjust="spacingAndGlyphs">b</tspan><tspan x="441.6" textLength="18.53" lengthAdjust="spacingAndGlyphs">s</tspan><tspan x="460.4" textLength="25.17" lengthAdjust="spacingAndGlyphs">e</tspan><tspan x="486.5" textLength="15.15" lengthAdjust="spacingAndGlyphs">r</tspan><tspan x="503.1" textLength="21.96" lengthAdjust="spacingAndGlyphs">v</tspan><tspan x="525.3" textLength="25.17" lengthAdjust="spacingAndGlyphs">e</tspan><tspan x="563.4" textLength="12.64" lengthAdjust="spacingAndGlyphs">t</tspan><tspan x="578.9" textLength="34.53" lengthAdjust="spacingAndGlyphs">w</tspan><tspan x="613.9" textLength="26.74" lengthAdjust="spacingAndGlyphs">o</tspan><tspan x="651.6" textLength="25.91" lengthAdjust="spacingAndGlyphs">d</tspan><tspan x="678.7" textLength="10.11" lengthAdjust="spacingAndGlyphs">i</tspan><tspan x="690.6" textLength="12.64" lengthAdjust="spacingAndGlyphs">f</tspan><tspan x="705.8" textLength="12.64" lengthAdjust="spacingAndGlyphs">f</tspan><tspan x="719.9" textLength="25.17" lengthAdjust="spacingAndGlyphs">e</tspan><tspan x="746.0" textLength="15.15" lengthAdjust="spacingAndGlyphs">r</tspan><tspan x="762.2" textLength="25.17" lengthAdjust="spacingAndGlyphs">e</tspan><tspan x="787.5" textLength="25.92" lengthAdjust="spacingAndGlyphs">n</tspan><tspan x="815.3" textLength="12.64" lengthAdjust="spacingAndGlyphs">t</tspan><tspan x="842.0" textLength="25.91" lengthAdjust="spacingAndGlyphs">b</tspan><tspan x="868.3" textLength="20.38" lengthAdjust="spacingAndGlyphs">a</tspan><tspan x="892.0" textLength="25.92" lengthAdjust="spacingAndGlyphs">n</tspan><tspan x="917.8" textLength="25.91" lengthAdjust="spacingAndGlyphs">d</tspan><tspan x="944.9" textLength="18.53" lengthAdjust="spacingAndGlyphs">s</tspan><tspan x="974.9" textLength="26.74" lengthAdjust="spacingAndGlyphs">o</tspan><tspan x="1001.8" textLength="25.92" lengthAdjust="spacingAndGlyphs">n</tspan><tspan x="1040.9" textLength="12.64" lengthAdjust="spacingAndGlyphs">t</tspan><tspan x="1056.1" textLength="26.01" lengthAdjust="spacingAndGlyphs">h</tspan><tspan x="1082.0" textLength="25.17" lengthAdjust="spacingAndGlyphs">e</tspan><tspan x="1117.7" textLength="23.67" lengthAdjust="spacingAndGlyphs">S</tspan><tspan x="1141.1" textLength="31.35" lengthAdjust="spacingAndGlyphs">D</tspan><tspan x="1171.4" textLength="23.67" lengthAdjust="spacingAndGlyphs">S</tspan><tspan x="1194.7" textLength="15.92" lengthAdjust="spacingAndGlyphs">-</tspan><tspan x="1210.7" textLength="25.91" lengthAdjust="spacingAndGlyphs">P</tspan><tspan x="1236.2" textLength="28.73" lengthAdjust="spacingAndGlyphs">A</tspan><tspan x="1264.8" textLength="32.23" lengthAdjust="spacingAndGlyphs">G</tspan><tspan x="1297.0" textLength="23.67" lengthAdjust="spacingAndGlyphs">E</tspan><tspan x="1331.9" textLength="26.09" lengthAdjust="spacingAndGlyphs">g</tspan><tspan x="1355.7" textLength="25.17" lengthAdjust="spacingAndGlyphs">e</tspan><tspan x="1381.4" textLength="10.11" lengthAdjust="spacingAndGlyphs">l</tspan><tspan x="1392.2" textLength="12.64" lengthAdjust="spacingAndGlyphs">.</tspan><tspan x="1427.1" textLength="25.06" lengthAdjust="spacingAndGlyphs">T</tspan><tspan x="1452.0" textLength="26.01" lengthAdjust="spacingAndGlyphs">h</tspan><tspan x="1478.0" textLength="25.17" lengthAdjust="spacingAndGlyphs">e</tspan><tspan x="1515.4" textLength="15.15" lengthAdjust="spacingAndGlyphs">r</tspan><tspan x="1531.6" textLength="25.17" lengthAdjust="spacingAndGlyphs">e</tspan><tspan x="1557.2" textLength="10.11" lengthAdjust="spacingAndGlyphs">l</tspan><tspan x="1568.5" textLength="20.38" lengthAdjust="spacingAndGlyphs">a</tspan><tspan x="1593.8" textLength="12.64" lengthAdjust="spacingAndGlyphs">t</tspan><tspan x="1609.4" textLength="10.11" lengthAdjust="spacingAndGlyphs">i</tspan><tspan x="1620.5" textLength="21.96" lengthAdjust="spacingAndGlyphs">v</tspan><tspan x="1642.7" textLength="25.17" lengthAdjust="spacingAndGlyphs">e</tspan><tspan x="1679.4" textLength="39.42" lengthAdjust="spacingAndGlyphs">m</tspan><tspan x="1719.6" textLength="10.11" lengthAdjust="spacingAndGlyphs">i</tspan><tspan x="1730.0" textLength="26.09" lengthAdjust="spacingAndGlyphs">g</tspan><tspan x="1755.0" textLength="15.15" lengthAdjust="spacingAndGlyphs">r</tspan><tspan x="1771.8" textLength="20.38" lengthAdjust="spacingAndGlyphs">a</tspan><tspan x="1797.1" textLength="12.64" lengthAdjust="spacingAndGlyphs">t</tspan><tspan x="1812.7" textLength="10.11" lengthAdjust="spacingAndGlyphs">i</tspan><tspan x="1823.3" textLength="26.74" lengthAdjust="spacingAndGlyphs">o</tspan><tspan x="1850.2" textLength="25.92" lengthAdjust="spacingAndGlyphs">n</tspan><tspan x="1887.3" textLength="26.74" lengthAdjust="spacingAndGlyphs">o</tspan><tspan x="1914.9" textLength="12.64" lengthAdjust="spacingAndGlyphs">f</tspan><tspan x="1940.2" textLength="26.74" lengthAdjust="spacingAndGlyphs">o</tspan><tspan x="1967.1" textLength="25.92" lengthAdjust="spacingAndGlyphs">n</tspan><tspan x="1992.9" textLength="25.17" lengthAdjust="spacingAndGlyphs">e</tspan><tspan x="2029.0" textLength="26.74" lengthAdjust="spacingAndGlyphs">o</tspan><tspan x="2056.6" textLength="12.64" lengthAdjust="spacingAndGlyphs">f</tspan><tspan x="2084.0" textLength="12.64" lengthAdjust="spacingAndGlyphs">t</tspan><tspan x="2099.1" textLength="26.01" lengthAdjust="spacingAndGlyphs">h</tspan><tspan x="2125.1" textLength="25.17" lengthAdjust="spacingAndGlyphs">e</tspan></text>
<text y="1989.80" font-size="45.50" fill="#000"><tspan x="300.5" textLength="25.91" lengthAdjust="spacingAndGlyphs">b</tspan><tspan x="326.8" textLength="20.38" lengthAdjust="spacingAndGlyphs">a</tspan><tspan x="350.5" textLength="25.92" lengthAdjust="spacingAndGlyphs">n</tspan><tspan x="376.3" textLength="25.91" lengthAdjust="spacingAndGlyphs">d</tspan><tspan x="403.4" textLength="18.53" lengthAdjust="spacingAndGlyphs">s</tspan><tspan x="434.3" textLength="10.11" lengthAdjust="spacingAndGlyphs">i</tspan><tspan x="445.8" textLength="18.53" lengthAdjust="spacingAndGlyphs">s</tspan><tspan x="477.0" textLength="24.22" lengthAdjust="spacingAndGlyphs">1</tspan><tspan x="501.3" textLength="12.64" lengthAdjust="spacingAndGlyphs">.</tspan><tspan x="513.4" textLength="26.47" lengthAdjust="spacingAndGlyphs">0</tspan><tspan x="539.3" textLength="25.29" lengthAdjust="spacingAndGlyphs">8</tspan><tspan x="565.2" textLength="23.60" lengthAdjust="spacingAndGlyphs">5</tspan><tspan x="591.1" textLength="24.60" lengthAdjust="spacingAndGlyphs">9</tspan><tspan x="627.1" textLength="20.38" lengthAdjust="spacingAndGlyphs">a</tspan><tspan x="650.9" textLength="25.92" lengthAdjust="spacingAndGlyphs">n</tspan><tspan x="676.7" textLength="25.91" lengthAdjust="spacingAndGlyphs">d</tspan><tspan x="716.2" textLength="12.64" lengthAdjust="spacingAndGlyphs">t</tspan><tspan x="731.4" textLength="26.01" lengthAdjust="spacingAndGlyphs">h</tspan><tspan x="757.3" textLength="25.17" lengthAdjust="spacingAndGlyphs">e</tspan><tspan x="794.7" textLength="15.15" lengthAdjust="spacingAndGlyphs">r</tspan><tspan x="810.9" textLength="25.17" lengthAdjust="spacingAndGlyphs">e</tspan><tspan x="836.6" textLength="10.11" lengthAdjust="spacingAndGlyphs">l</tspan><tspan x="847.9" textLength="20.38" lengthAdjust="spacingAndGlyphs">a</tspan><tspan x="873.2" textLength="12.64" lengthAdjust="spacingAndGlyphs">t</tspan><tspan x="888.7" textLength="10.11" lengthAdjust="spacingAndGlyphs">i</tspan><tspan x="899.8" textLength="21.96" lengthAdjust="spacingAndGlyphs">v</tspan><tspan x="922.0" textLength="25.17" lengthAdjust="spacingAndGlyphs">e</tspan><tspan x="958.7" textLength="39.42" lengthAdjust="spacingAndGlyphs">m</tspan><tspan x="998.9" textLength="10.11" lengthAdjust="spacingAndGlyphs">i</tspan><tspan x="1009.3" textLength="26.09" lengthAdjust="spacingAndGlyphs">g</tspan><tspan x="1034.4" textLength="15.15" lengthAdjust="spacingAndGlyphs">r</tspan><tspan x="1051.2" textLength="20.38" lengthAdjust="spacingAndGlyphs">a</tspan><tspan x="1076.5" textLength="12.64" lengthAdjust="spacingAndGlyphs">t</tspan><tspan x="1092.0" textLength="10.11" lengthAdjust="spacingAndGlyphs">i</tspan><tspan x="1102.7" textLength="26.74" lengthAdjust="spacingAndGlyphs">o</tspan><tspan x="1129.5" textLength="25.92" lengthAdjust="spacingAndGlyphs">n</tspan><tspan x="1166.6" textLength="26.74" lengthAdjust="spacingAndGlyphs">o</tspan><tspan x="1194.2" textLength="12.64" lengthAdjust="spacingAndGlyphs">f</tspan><tspan x="1221.6" textLength="12.64" lengthAdjust="spacingAndGlyphs">t</tspan><tspan x="1236.7" textLength="26.01" lengthAdjust="spacingAndGlyphs">h</tspan><tspan x="1262.7" textLength="25.17" lengthAdjust="spacingAndGlyphs">e</tspan><tspan x="1298.7" textLength="26.74" lengthAdjust="spacingAndGlyphs">o</tspan><tspan x="1327.1" textLength="12.64" lengthAdjust="spacingAndGlyphs">t</tspan><tspan x="1342.3" textLength="26.01" lengthAdjust="spacingAndGlyphs">h</tspan><tspan x="1368.2" textLength="25.17" lengthAdjust="spacingAndGlyphs">e</tspan><tspan x="1394.3" textLength="15.15" lengthAdjust="spacingAndGlyphs">r</tspan><tspan x="1422.4" textLength="25.91" lengthAdjust="spacingAndGlyphs">b</tspan><tspan x="1448.7" textLength="20.38" lengthAdjust="spacingAndGlyphs">a</tspan><tspan x="1472.5" textLength="25.92" lengthAdjust="spacingAndGlyphs">n</tspan><tspan x="1498.3" textLength="25.91" lengthAdjust="spacingAndGlyphs">d</tspan><tspan x="1536.6" textLength="10.11" lengthAdjust="spacingAndGlyphs">i</tspan><tspan x="1548.1" textLength="18.53" lengthAdjust="spacingAndGlyphs">s</tspan><tspan x="1579.3" textLength="24.22" lengthAdjust="spacingAndGlyphs">1</tspan><tspan x="1603.6" textLength="12.64" lengthAdjust="spacingAndGlyphs">.</tspan><tspan x="1615.7" textLength="26.47" lengthAdjust="spacingAndGlyphs">0</tspan><tspan x="1641.4" textLength="26.11" lengthAdjust="spacingAndGlyphs">4</tspan><tspan x="1666.7" textLength="26.11" lengthAdjust="spacingAndGlyphs">4</tspan><tspan x="1692.3" textLength="12.64" lengthAdjust="spacingAndGlyphs">.</tspan><tspan x="1727.2" textLength="25.06" lengthAdjust="spacingAndGlyphs">T</tspan><tspan x="1752.2" textLength="26.01" lengthAdjust="spacingAndGlyphs">h</tspan><tspan x="1778.1" textLength="25.17" lengthAdjust="spacingAndGlyphs">e</tspan><tspan x="1814.9" textLength="25.91" lengthAdjust="spacingAndGlyphs">b</tspan><tspan x="1841.1" textLength="20.38" lengthAdjust="spacingAndGlyphs">a</tspan><tspan x="1864.9" textLength="25.92" lengthAdjust="spacingAndGlyphs">n</tspan><tspan x="1890.7" textLength="25.91" lengthAdjust="spacingAndGlyphs">d</tspan><tspan x="1929.0" textLength="34.53" lengthAdjust="spacingAndGlyphs">w</tspan><tspan x="1964.8" textLength="10.11" lengthAdjust="spacingAndGlyphs">i</tspan><tspan x="1977.5" textLength="12.64" lengthAdjust="spacingAndGlyphs">t</tspan><tspan x="1992.6" textLength="26.01" lengthAdjust="spacingAndGlyphs">h</tspan><tspan x="2031.8" textLength="12.64" lengthAdjust="spacingAndGlyphs">t</tspan><tspan x="2047.0" textLength="26.01" lengthAdjust="spacingAndGlyphs">h</tspan><tspan x="2072.9" textLength="25.17" lengthAdjust="spacingAndGlyphs">e</tspan><tspan x="2109.4" textLength="26.01" lengthAdjust="spacingAndGlyphs">h</tspan><tspan x="2136.1" textLength="10.11" lengthAdjust="spacingAndGlyphs">i</tspan><tspan x="2146.5" textLength="26.09" lengthAdjust="spacingAndGlyphs">g</tspan><tspan x="2170.7" textLength="26.01" lengthAdjust="spacingAndGlyphs">h</tspan><tspan x="2196.6" textLength="25.17" lengthAdjust="spacingAndGlyphs">e</tspan><tspan x="2222.7" textLength="15.15" lengthAdjust="spacingAndGlyphs">r</tspan></text>
<text y="2050.80" font-size="45.50" fill="#000"><tspan x="301.1" textLength="15.15" lengthAdjust="spacingAndGlyphs">r</tspan><tspan x="317.3" textLength="25.17" lengthAdjust="spacingAndGlyphs">e</tspan><tspan x="343.0" textLength="10.11" lengthAdjust="spacingAndGlyphs">l</tspan><tspan x="354.3" textLength="20.38" lengthAdjust="spacingAndGlyphs">a</tspan><tspan x="379.6" textLength="12.64" lengthAdjust="spacingAndGlyphs">t</tspan><tspan x="395.1" textLength="10.11" lengthAdjust="spacingAndGlyphs">i</tspan><tspan x="406.3" textLength="21.96" lengthAdjust="spacingAndGlyphs">v</tspan><tspan x="428.4" textLength="25.17" lengthAdjust="spacingAndGlyphs">e</tspan><tspan x="465.2" textLength="39.42" lengthAdjust="spacingAndGlyphs">m</tspan><tspan x="505.3" textLength="10.11" lengthAdjust="spacingAndGlyphs">i</tspan><tspan x="515.7" textLength="26.09" lengthAdjust="spacingAndGlyphs">g</tspan><tspan x="540.8" textLength="15.15" lengthAdjust="spacingAndGlyphs">r</tspan><tspan x="557.6" textLength="20.38" lengthAdjust="spacingAndGlyphs">a</tspan><tspan x="582.9" textLength="12.64" lengthAdjust="spacingAndGlyphs">t</tspan><tspan x="598.5" textLength="10.11" lengthAdjust="spacingAndGlyphs">i</tspan><tspan x="609.1" textLength="26.74" lengthAdjust="spacingAndGlyphs">o</tspan><tspan x="636.0" textLength="25.92" lengthAdjust="spacingAndGlyphs">n</tspan><tspan x="673.9" textLength="10.11" lengthAdjust="spacingAndGlyphs">i</tspan><tspan x="685.4" textLength="18.53" lengthAdjust="spacingAndGlyphs">s</tspan><tspan x="717.4" textLength="12.64" lengthAdjust="spacingAndGlyphs">t</tspan><tspan x="732.5" textLength="26.01" lengthAdjust="spacingAndGlyphs">h</tspan><tspan x="759.7" textLength="15.15" lengthAdjust="spacingAndGlyphs">r</tspan><tspan x="775.9" textLength="25.17" lengthAdjust="spacingAndGlyphs">e</tspan><tspan x="800.8" textLength="25.17" lengthAdjust="spacingAndGlyphs">e</tspan><tspan x="838.9" textLength="12.64" lengthAdjust="spacingAndGlyphs">t</tspan><tspan x="854.5" textLength="10.11" lengthAdjust="spacingAndGlyphs">i</tspan><tspan x="865.7" textLength="39.42" lengthAdjust="spacingAndGlyphs">m</tspan><tspan x="905.1" textLength="25.17" lengthAdjust="spacingAndGlyphs">e</tspan><tspan x="930.8" textLength="18.53" lengthAdjust="spacingAndGlyphs">s</tspan><tspan x="961.5" textLength="20.38" lengthAdjust="spacingAndGlyphs">a</tspan><tspan x="985.6" textLength="18.53" lengthAdjust="spacingAndGlyphs">s</tspan><tspan x="1015.6" textLength="25.91" lengthAdjust="spacingAndGlyphs">d</tspan><tspan x="1042.5" textLength="20.38" lengthAdjust="spacingAndGlyphs">a</tspan><tspan x="1067.1" textLength="15.15" lengthAdjust="spacingAndGlyphs">r</tspan><tspan x="1083.6" textLength="21.88" lengthAdjust="spacingAndGlyphs">k</tspan><tspan x="1118.0" textLength="20.38" lengthAdjust="spacingAndGlyphs">a</tspan><tspan x="1142.1" textLength="18.53" lengthAdjust="spacingAndGlyphs">s</tspan><tspan x="1174.1" textLength="12.64" lengthAdjust="spacingAndGlyphs">t</tspan><tspan x="1189.3" textLength="26.01" lengthAdjust="spacingAndGlyphs">h</tspan><tspan x="1215.2" textLength="25.17" lengthAdjust="spacingAndGlyphs">e</tspan><tspan x="1251.3" textLength="26.74" lengthAdjust="spacingAndGlyphs">o</tspan><tspan x="1278.2" textLength="25.92" lengthAdjust="spacingAndGlyphs">n</tspan><tspan x="1304.0" textLength="25.17" lengthAdjust="spacingAndGlyphs">e</tspan><tspan x="1340.9" textLength="34.53" lengthAdjust="spacingAndGlyphs">w</tspan><tspan x="1376.7" textLength="10.11" lengthAdjust="spacingAndGlyphs">i</tspan><tspan x="1389.4" textLength="12.64" lengthAdjust="spacingAndGlyphs">t</tspan><tspan x="1404.5" textLength="26.01" lengthAdjust="spacingAndGlyphs">h</tspan><tspan x="1443.7" textLength="12.64" lengthAdjust="spacingAndGlyphs">t</tspan><tspan x="1458.8" textLength="26.01" lengthAdjust="spacingAndGlyphs">h</tspan><tspan x="1484.7" textLength="25.17" lengthAdjust="spacingAndGlyphs">e</tspan><tspan x="1521.7" textLength="10.11" lengthAdjust="spacingAndGlyphs">l</tspan><tspan x="1532.3" textLength="26.74" lengthAdjust="spacingAndGlyphs">o</tspan><tspan x="1559.4" textLength="34.53" lengthAdjust="spacingAndGlyphs">w</tspan><tspan x="1594.5" textLength="25.17" lengthAdjust="spacingAndGlyphs">e</tspan><tspan x="1620.6" textLength="15.15" lengthAdjust="spacingAndGlyphs">r</tspan><tspan x="1649.3" textLength="15.15" lengthAdjust="spacingAndGlyphs">r</tspan><tspan x="1665.6" textLength="25.17" lengthAdjust="spacingAndGlyphs">e</tspan><tspan x="1691.2" textLength="10.11" lengthAdjust="spacingAndGlyphs">l</tspan><tspan x="1702.5" textLength="20.38" lengthAdjust="spacingAndGlyphs">a</tspan><tspan x="1727.8" textLength="12.64" lengthAdjust="spacingAndGlyphs">t</tspan><tspan x="1743.4" textLength="10.11" lengthAdjust="spacingAndGlyphs">i</tspan><tspan x="1754.5" textLength="21.96" lengthAdjust="spacingAndGlyphs">v</tspan><tspan x="1776.7" textLength="25.17" lengthAdjust="spacingAndGlyphs">e</tspan><tspan x="1813.4" textLength="39.42" lengthAdjust="spacingAndGlyphs">m</tspan><tspan x="1853.5" textLength="10.11" lengthAdjust="spacingAndGlyphs">i</tspan><tspan x="1863.9" textLength="26.09" lengthAdjust="spacingAndGlyphs">g</tspan><tspan x="1889.0" textLength="15.15" lengthAdjust="spacingAndGlyphs">r</tspan><tspan x="1905.8" textLength="20.38" lengthAdjust="spacingAndGlyphs">a</tspan><tspan x="1931.1" textLength="12.64" lengthAdjust="spacingAndGlyphs">t</tspan><tspan x="1946.7" textLength="10.11" lengthAdjust="spacingAndGlyphs">i</tspan><tspan x="1957.3" textLength="26.74" lengthAdjust="spacingAndGlyphs">o</tspan><tspan x="1984.2" textLength="25.92" lengthAdjust="spacingAndGlyphs">n</tspan><tspan x="2010.1" textLength="12.64" lengthAdjust="spacingAndGlyphs">.</tspan><tspan x="2045.3" textLength="32.38" lengthAdjust="spacingAndGlyphs">N</tspan><tspan x="2077.4" textLength="26.74" lengthAdjust="spacingAndGlyphs">o</tspan><tspan x="2105.9" textLength="12.64" lengthAdjust="spacingAndGlyphs">t</tspan><tspan x="2120.7" textLength="25.17" lengthAdjust="spacingAndGlyphs">e</tspan><tspan x="2158.8" textLength="12.64" lengthAdjust="spacingAndGlyphs">t</tspan><tspan x="2173.9" textLength="26.01" lengthAdjust="spacingAndGlyphs">h</tspan><tspan x="2200.4" textLength="20.38" lengthAdjust="spacingAndGlyphs">a</tspan><tspan x="2225.8" textLength="12.64" lengthAdjust="spacingAndGlyphs">t</tspan></text>
<text y="2111.80" font-size="45.50" fill="#000"><tspan x="301.9" textLength="12.64" lengthAdjust="spacingAndGlyphs">t</tspan><tspan x="317.0" textLength="26.01" lengthAdjust="spacingAndGlyphs">h</tspan><tspan x="342.9" textLength="25.17" lengthAdjust="spacingAndGlyphs">e</tspan><tspan x="380.3" textLength="15.15" lengthAdjust="spacingAndGlyphs">r</tspan><tspan x="396.5" textLength="25.17" lengthAdjust="spacingAndGlyphs">e</tspan><tspan x="422.2" textLength="18.53" lengthAdjust="spacingAndGlyphs">s</tspan><tspan x="441.1" textLength="25.92" lengthAdjust="spacingAndGlyphs">u</tspan><tspan x="468.0" textLength="10.11" lengthAdjust="spacingAndGlyphs">l</tspan><tspan x="480.7" textLength="12.64" lengthAdjust="spacingAndGlyphs">t</tspan><tspan x="496.2" textLength="18.53" lengthAdjust="spacingAndGlyphs">s</tspan><tspan x="526.9" textLength="20.38" lengthAdjust="spacingAndGlyphs">a</tspan><tspan x="551.5" textLength="15.15" lengthAdjust="spacingAndGlyphs">r</tspan><tspan x="567.7" textLength="25.17" lengthAdjust="spacingAndGlyphs">e</tspan><tspan x="604.6" textLength="10.11" lengthAdjust="spacingAndGlyphs">i</tspan><tspan x="615.3" textLength="25.91" lengthAdjust="spacingAndGlyphs">d</tspan><tspan x="641.6" textLength="25.17" lengthAdjust="spacingAndGlyphs">e</tspan><tspan x="666.9" textLength="25.92" lengthAdjust="spacingAndGlyphs">n</tspan><tspan x="694.7" textLength="12.64" lengthAdjust="spacingAndGlyphs">t</tspan><tspan x="710.3" textLength="10.11" lengthAdjust="spacingAndGlyphs">i</tspan><tspan x="721.0" textLength="21.43" lengthAdjust="spacingAndGlyphs">c</tspan><tspan x="742.7" textLength="20.38" lengthAdjust="spacingAndGlyphs">a</tspan><tspan x="766.9" textLength="10.11" lengthAdjust="spacingAndGlyphs">l</tspan><tspan x="789.5" textLength="34.53" lengthAdjust="spacingAndGlyphs">w</tspan><tspan x="825.0" textLength="26.01" lengthAdjust="spacingAndGlyphs">h</tspan><tspan x="850.9" textLength="25.17" lengthAdjust="spacingAndGlyphs">e</tspan><tspan x="876.2" textLength="25.92" lengthAdjust="spacingAndGlyphs">n</tspan><tspan x="913.3" textLength="31.35" lengthAdjust="spacingAndGlyphs">D</tspan><tspan x="943.9" textLength="25.06" lengthAdjust="spacingAndGlyphs">T</tspan><tspan x="968.2" textLength="25.06" lengthAdjust="spacingAndGlyphs">T</tspan><tspan x="1004.9" textLength="10.11" lengthAdjust="spacingAndGlyphs">i</tspan><tspan x="1016.4" textLength="18.53" lengthAdjust="spacingAndGlyphs">s</tspan><tspan x="1047.0" textLength="26.00" lengthAdjust="spacingAndGlyphs">p</tspan><tspan x="1073.9" textLength="15.15" lengthAdjust="spacingAndGlyphs">r</tspan><tspan x="1090.2" textLength="25.17" lengthAdjust="spacingAndGlyphs">e</tspan><tspan x="1115.8" textLength="18.53" lengthAdjust="spacingAndGlyphs">s</tspan><tspan x="1134.6" textLength="25.17" lengthAdjust="spacingAndGlyphs">e</tspan><tspan x="1159.9" textLength="25.92" lengthAdjust="spacingAndGlyphs">n</tspan><tspan x="1187.7" textLength="12.64" lengthAdjust="spacingAndGlyphs">t</tspan><tspan x="1214.5" textLength="10.11" lengthAdjust="spacingAndGlyphs">i</tspan><tspan x="1225.7" textLength="25.92" lengthAdjust="spacingAndGlyphs">n</tspan><tspan x="1264.8" textLength="12.64" lengthAdjust="spacingAndGlyphs">t</tspan><tspan x="1279.9" textLength="26.01" lengthAdjust="spacingAndGlyphs">h</tspan><tspan x="1305.9" textLength="25.17" lengthAdjust="spacingAndGlyphs">e</tspan><tspan x="1342.7" textLength="25.91" lengthAdjust="spacingAndGlyphs">b</tspan><tspan x="1368.4" textLength="25.92" lengthAdjust="spacingAndGlyphs">u</tspan><tspan x="1395.8" textLength="12.64" lengthAdjust="spacingAndGlyphs">f</tspan><tspan x="1411.0" textLength="12.64" lengthAdjust="spacingAndGlyphs">f</tspan><tspan x="1425.1" textLength="25.17" lengthAdjust="spacingAndGlyphs">e</tspan><tspan x="1451.2" textLength="15.15" lengthAdjust="spacingAndGlyphs">r</tspan><tspan x="1467.5" textLength="12.64" lengthAdjust="spacingAndGlyphs">.</tspan></text>
<text y="2233.80" font-size="45.50" font-weight="bold" fill="#000"><tspan x="300.5" textLength="23.67" lengthAdjust="spacingAndGlyphs">E</tspan><tspan x="324.5" textLength="22.77" lengthAdjust="spacingAndGlyphs">x</tspan><tspan x="347.5" textLength="27.02" lengthAdjust="spacingAndGlyphs">p</tspan><tspan x="374.1" textLength="12.56" lengthAdjust="spacingAndGlyphs">l</tspan><tspan x="387.1" textLength="21.19" lengthAdjust="spacingAndGlyphs">a</tspan><tspan x="411.0" textLength="12.64" lengthAdjust="spacingAndGlyphs">i</tspan><tspan x="423.6" textLength="26.81" lengthAdjust="spacingAndGlyphs">n</tspan><tspan x="461.9" textLength="36.68" lengthAdjust="spacingAndGlyphs">w</tspan><tspan x="498.8" textLength="27.02" lengthAdjust="spacingAndGlyphs">h</tspan><tspan x="526.3" textLength="21.19" lengthAdjust="spacingAndGlyphs">a</tspan><tspan x="551.3" textLength="15.15" lengthAdjust="spacingAndGlyphs">t</tspan><tspan x="578.7" textLength="23.93" lengthAdjust="spacingAndGlyphs">y</tspan><tspan x="602.4" textLength="27.35" lengthAdjust="spacingAndGlyphs">o</tspan><tspan x="629.4" textLength="26.81" lengthAdjust="spacingAndGlyphs">u</tspan><tspan x="667.8" textLength="26.81" lengthAdjust="spacingAndGlyphs">n</tspan><tspan x="694.3" textLength="27.35" lengthAdjust="spacingAndGlyphs">o</tspan><tspan x="721.7" textLength="36.68" lengthAdjust="spacingAndGlyphs">w</tspan><tspan x="769.5" textLength="24.05" lengthAdjust="spacingAndGlyphs">k</tspan><tspan x="794.1" textLength="26.81" lengthAdjust="spacingAndGlyphs">n</tspan><tspan x="820.5" textLength="27.35" lengthAdjust="spacingAndGlyphs">o</tspan><tspan x="848.0" textLength="36.68" lengthAdjust="spacingAndGlyphs">w</tspan><tspan x="896.9" textLength="21.19" lengthAdjust="spacingAndGlyphs">a</tspan><tspan x="921.0" textLength="26.99" lengthAdjust="spacingAndGlyphs">b</tspan><tspan x="947.5" textLength="27.35" lengthAdjust="spacingAndGlyphs">o</tspan><tspan x="974.5" textLength="26.81" lengthAdjust="spacingAndGlyphs">u</tspan><tspan x="1002.4" textLength="15.15" lengthAdjust="spacingAndGlyphs">t</tspan><tspan x="1031.0" textLength="15.15" lengthAdjust="spacingAndGlyphs">t</tspan><tspan x="1047.4" textLength="27.02" lengthAdjust="spacingAndGlyphs">h</tspan><tspan x="1074.0" textLength="25.47" lengthAdjust="spacingAndGlyphs">e</tspan><tspan x="1110.7" textLength="20.20" lengthAdjust="spacingAndGlyphs">s</tspan><tspan x="1130.6" textLength="26.81" lengthAdjust="spacingAndGlyphs">u</tspan><tspan x="1157.6" textLength="26.99" lengthAdjust="spacingAndGlyphs">b</tspan><tspan x="1184.2" textLength="26.81" lengthAdjust="spacingAndGlyphs">u</tspan><tspan x="1211.3" textLength="26.81" lengthAdjust="spacingAndGlyphs">n</tspan><tspan x="1237.8" textLength="12.64" lengthAdjust="spacingAndGlyphs">i</tspan><tspan x="1251.2" textLength="15.15" lengthAdjust="spacingAndGlyphs">t</tspan><tspan x="1278.7" textLength="21.74" lengthAdjust="spacingAndGlyphs">c</tspan><tspan x="1299.6" textLength="27.35" lengthAdjust="spacingAndGlyphs">o</tspan><tspan x="1326.8" textLength="40.69" lengthAdjust="spacingAndGlyphs">m</tspan><tspan x="1367.5" textLength="27.02" lengthAdjust="spacingAndGlyphs">p</tspan><tspan x="1394.0" textLength="27.35" lengthAdjust="spacingAndGlyphs">o</tspan><tspan x="1421.1" textLength="20.20" lengthAdjust="spacingAndGlyphs">s</tspan><tspan x="1440.8" textLength="12.64" lengthAdjust="spacingAndGlyphs">i</tspan><tspan x="1454.3" textLength="15.15" lengthAdjust="spacingAndGlyphs">t</tspan><tspan x="1470.5" textLength="12.64" lengthAdjust="spacingAndGlyphs">i</tspan><tspan x="1482.7" textLength="27.35" lengthAdjust="spacingAndGlyphs">o</tspan><tspan x="1509.9" textLength="26.81" lengthAdjust="spacingAndGlyphs">n</tspan><tspan x="1547.7" textLength="27.35" lengthAdjust="spacingAndGlyphs">o</tspan><tspan x="1574.9" textLength="15.15" lengthAdjust="spacingAndGlyphs">f</tspan><tspan x="1601.8" textLength="17.71" lengthAdjust="spacingAndGlyphs">r</tspan><tspan x="1619.5" textLength="25.47" lengthAdjust="spacingAndGlyphs">e</tspan><tspan x="1644.9" textLength="20.20" lengthAdjust="spacingAndGlyphs">s</tspan><tspan x="1664.6" textLength="12.64" lengthAdjust="spacingAndGlyphs">i</tspan><tspan x="1677.0" textLength="12.56" lengthAdjust="spacingAndGlyphs">l</tspan><tspan x="1689.2" textLength="12.64" lengthAdjust="spacingAndGlyphs">i</tspan><tspan x="1701.8" textLength="26.81" lengthAdjust="spacingAndGlyphs">n</tspan><tspan x="1739.6" textLength="12.64" lengthAdjust="spacingAndGlyphs">i</tspan><tspan x="1752.2" textLength="26.81" lengthAdjust="spacingAndGlyphs">n</tspan><tspan x="1791.2" textLength="15.15" lengthAdjust="spacingAndGlyphs">t</tspan><tspan x="1807.3" textLength="25.47" lengthAdjust="spacingAndGlyphs">e</tspan><tspan x="1832.6" textLength="17.71" lengthAdjust="spacingAndGlyphs">r</tspan><tspan x="1850.6" textLength="40.69" lengthAdjust="spacingAndGlyphs">m</tspan><tspan x="1891.2" textLength="20.20" lengthAdjust="spacingAndGlyphs">s</tspan><tspan x="1922.2" textLength="27.35" lengthAdjust="spacingAndGlyphs">o</tspan><tspan x="1949.4" textLength="15.15" lengthAdjust="spacingAndGlyphs">f</tspan><tspan x="1976.5" textLength="27.02" lengthAdjust="spacingAndGlyphs">p</tspan><tspan x="2003.1" textLength="17.71" lengthAdjust="spacingAndGlyphs">r</tspan><tspan x="2020.8" textLength="27.35" lengthAdjust="spacingAndGlyphs">o</tspan><tspan x="2048.9" textLength="15.15" lengthAdjust="spacingAndGlyphs">t</tspan><tspan x="2065.0" textLength="25.47" lengthAdjust="spacingAndGlyphs">e</tspan><tspan x="2090.2" textLength="12.64" lengthAdjust="spacingAndGlyphs">i</tspan><tspan x="2102.8" textLength="26.81" lengthAdjust="spacingAndGlyphs">n</tspan><tspan x="2129.5" textLength="20.20" lengthAdjust="spacingAndGlyphs">s</tspan><tspan x="2159.8" textLength="32.48" lengthAdjust="spacingAndGlyphs">A</tspan></text>
<text y="2294.80" font-size="45.50" font-weight="bold" fill="#000"><tspan x="300.7" textLength="21.19" lengthAdjust="spacingAndGlyphs">a</tspan><tspan x="324.8" textLength="26.81" lengthAdjust="spacingAndGlyphs">n</tspan><tspan x="351.2" textLength="26.99" lengthAdjust="spacingAndGlyphs">d</tspan><tspan x="390.0" textLength="27.81" lengthAdjust="spacingAndGlyphs">B</tspan><tspan x="429.6" textLength="21.19" lengthAdjust="spacingAndGlyphs">a</tspan><tspan x="453.8" textLength="26.81" lengthAdjust="spacingAndGlyphs">n</tspan><tspan x="480.2" textLength="26.99" lengthAdjust="spacingAndGlyphs">d</tspan><tspan x="518.6" textLength="27.02" lengthAdjust="spacingAndGlyphs">h</tspan><tspan x="545.2" textLength="27.35" lengthAdjust="spacingAndGlyphs">o</tspan><tspan x="572.6" textLength="36.68" lengthAdjust="spacingAndGlyphs">w</tspan><tspan x="621.9" textLength="15.15" lengthAdjust="spacingAndGlyphs">t</tspan><tspan x="638.2" textLength="27.02" lengthAdjust="spacingAndGlyphs">h</tspan><tspan x="664.8" textLength="25.47" lengthAdjust="spacingAndGlyphs">e</tspan><tspan x="701.4" textLength="23.67" lengthAdjust="spacingAndGlyphs">S</tspan><tspan x="725.0" textLength="32.43" lengthAdjust="spacingAndGlyphs">D</tspan><tspan x="756.6" textLength="23.67" lengthAdjust="spacingAndGlyphs">S</tspan><tspan x="779.9" textLength="16.17" lengthAdjust="spacingAndGlyphs">-</tspan><tspan x="795.8" textLength="26.53" lengthAdjust="spacingAndGlyphs">P</tspan><tspan x="821.2" textLength="32.48" lengthAdjust="spacingAndGlyphs">A</tspan><tspan x="852.1" textLength="32.76" lengthAdjust="spacingAndGlyphs">G</tspan><tspan x="884.9" textLength="23.67" lengthAdjust="spacingAndGlyphs">E</tspan><tspan x="919.8" textLength="26.99" lengthAdjust="spacingAndGlyphs">d</tspan><tspan x="947.6" textLength="21.19" lengthAdjust="spacingAndGlyphs">a</tspan><tspan x="972.6" textLength="15.15" lengthAdjust="spacingAndGlyphs">t</tspan><tspan x="989.6" textLength="21.19" lengthAdjust="spacingAndGlyphs">a</tspan><tspan x="1024.7" textLength="21.74" lengthAdjust="spacingAndGlyphs">c</tspan><tspan x="1046.5" textLength="21.19" lengthAdjust="spacingAndGlyphs">a</tspan><tspan x="1070.7" textLength="26.81" lengthAdjust="spacingAndGlyphs">n</tspan><tspan x="1108.8" textLength="26.99" lengthAdjust="spacingAndGlyphs">b</tspan><tspan x="1135.2" textLength="25.47" lengthAdjust="spacingAndGlyphs">e</tspan><tspan x="1171.8" textLength="12.64" lengthAdjust="spacingAndGlyphs">i</tspan><tspan x="1184.4" textLength="26.81" lengthAdjust="spacingAndGlyphs">n</tspan><tspan x="1212.0" textLength="15.15" lengthAdjust="spacingAndGlyphs">t</tspan><tspan x="1228.2" textLength="25.47" lengthAdjust="spacingAndGlyphs">e</tspan><tspan x="1253.4" textLength="17.71" lengthAdjust="spacingAndGlyphs">r</tspan><tspan x="1271.4" textLength="27.02" lengthAdjust="spacingAndGlyphs">p</tspan><tspan x="1298.0" textLength="17.71" lengthAdjust="spacingAndGlyphs">r</tspan><tspan x="1315.7" textLength="25.47" lengthAdjust="spacingAndGlyphs">e</tspan><tspan x="1342.1" textLength="15.15" lengthAdjust="spacingAndGlyphs">t</tspan><tspan x="1358.2" textLength="25.47" lengthAdjust="spacingAndGlyphs">e</tspan><tspan x="1383.4" textLength="26.99" lengthAdjust="spacingAndGlyphs">d</tspan><tspan x="1422.7" textLength="15.15" lengthAdjust="spacingAndGlyphs">t</tspan><tspan x="1438.9" textLength="27.35" lengthAdjust="spacingAndGlyphs">o</tspan><tspan x="1477.2" textLength="12.56" lengthAdjust="spacingAndGlyphs">l</tspan><tspan x="1489.3" textLength="25.47" lengthAdjust="spacingAndGlyphs">e</tspan><tspan x="1515.4" textLength="21.19" lengthAdjust="spacingAndGlyphs">a</tspan><tspan x="1539.2" textLength="26.99" lengthAdjust="spacingAndGlyphs">d</tspan><tspan x="1577.3" textLength="23.93" lengthAdjust="spacingAndGlyphs">y</tspan><tspan x="1601.0" textLength="27.35" lengthAdjust="spacingAndGlyphs">o</tspan><tspan x="1628.0" textLength="26.81" lengthAdjust="spacingAndGlyphs">u</tspan><tspan x="1667.2" textLength="15.15" lengthAdjust="spacingAndGlyphs">t</tspan><tspan x="1683.4" textLength="27.35" lengthAdjust="spacingAndGlyphs">o</tspan><tspan x="1722.7" textLength="15.15" lengthAdjust="spacingAndGlyphs">t</tspan><tspan x="1739.1" textLength="27.02" lengthAdjust="spacingAndGlyphs">h</tspan><tspan x="1765.7" textLength="12.64" lengthAdjust="spacingAndGlyphs">i</tspan><tspan x="1778.2" textLength="20.20" lengthAdjust="spacingAndGlyphs">s</tspan><tspan x="1809.3" textLength="17.71" lengthAdjust="spacingAndGlyphs">r</tspan><tspan x="1827.0" textLength="25.47" lengthAdjust="spacingAndGlyphs">e</tspan><tspan x="1852.4" textLength="20.20" lengthAdjust="spacingAndGlyphs">s</tspan><tspan x="1872.3" textLength="26.81" lengthAdjust="spacingAndGlyphs">u</tspan><tspan x="1899.1" textLength="12.56" lengthAdjust="spacingAndGlyphs">l</tspan><tspan x="1912.4" textLength="15.15" lengthAdjust="spacingAndGlyphs">t</tspan><tspan x="1929.2" textLength="12.64" lengthAdjust="spacingAndGlyphs">.</tspan><tspan x="1963.7" textLength="32.48" lengthAdjust="spacingAndGlyphs">A</tspan><tspan x="1995.0" textLength="12.56" lengthAdjust="spacingAndGlyphs">l</tspan><tspan x="2007.3" textLength="20.20" lengthAdjust="spacingAndGlyphs">s</tspan><tspan x="2027.1" textLength="27.35" lengthAdjust="spacingAndGlyphs">o</tspan><tspan x="2065.2" textLength="25.47" lengthAdjust="spacingAndGlyphs">e</tspan><tspan x="2090.8" textLength="22.77" lengthAdjust="spacingAndGlyphs">x</tspan><tspan x="2113.7" textLength="27.02" lengthAdjust="spacingAndGlyphs">p</tspan><tspan x="2140.4" textLength="12.56" lengthAdjust="spacingAndGlyphs">l</tspan><tspan x="2153.4" textLength="21.19" lengthAdjust="spacingAndGlyphs">a</tspan><tspan x="2177.2" textLength="12.64" lengthAdjust="spacingAndGlyphs">i</tspan><tspan x="2189.8" textLength="26.81" lengthAdjust="spacingAndGlyphs">n</tspan></text>
<text y="2355.80" font-size="45.50" font-weight="bold" fill="#000"><tspan x="300.3" textLength="36.68" lengthAdjust="spacingAndGlyphs">w</tspan><tspan x="337.2" textLength="27.02" lengthAdjust="spacingAndGlyphs">h</tspan><tspan x="363.9" textLength="12.64" lengthAdjust="spacingAndGlyphs">i</tspan><tspan x="376.2" textLength="21.74" lengthAdjust="spacingAndGlyphs">c</tspan><tspan x="397.3" textLength="27.02" lengthAdjust="spacingAndGlyphs">h</tspan><tspan x="435.4" textLength="20.20" lengthAdjust="spacingAndGlyphs">s</tspan><tspan x="455.3" textLength="26.81" lengthAdjust="spacingAndGlyphs">u</tspan><tspan x="482.3" textLength="26.99" lengthAdjust="spacingAndGlyphs">b</tspan><tspan x="508.9" textLength="26.81" lengthAdjust="spacingAndGlyphs">u</tspan><tspan x="536.0" textLength="26.81" lengthAdjust="spacingAndGlyphs">n</tspan><tspan x="562.5" textLength="12.64" lengthAdjust="spacingAndGlyphs">i</tspan><tspan x="575.9" textLength="15.15" lengthAdjust="spacingAndGlyphs">t</tspan><tspan x="592.3" textLength="20.20" lengthAdjust="spacingAndGlyphs">s</tspan><tspan x="623.4" textLength="21.74" lengthAdjust="spacingAndGlyphs">c</tspan><tspan x="644.2" textLength="27.35" lengthAdjust="spacingAndGlyphs">o</tspan><tspan x="671.5" textLength="26.81" lengthAdjust="spacingAndGlyphs">n</tspan><tspan x="699.2" textLength="15.15" lengthAdjust="spacingAndGlyphs">t</tspan><tspan x="716.2" textLength="21.19" lengthAdjust="spacingAndGlyphs">a</tspan><tspan x="740.0" textLength="12.64" lengthAdjust="spacingAndGlyphs">i</tspan><tspan x="752.6" textLength="26.81" lengthAdjust="spacingAndGlyphs">n</tspan><tspan x="790.0" textLength="26.75" lengthAdjust="spacingAndGlyphs">g</tspan><tspan x="814.2" textLength="12.56" lengthAdjust="spacingAndGlyphs">l</tspan><tspan x="826.5" textLength="26.81" lengthAdjust="spacingAndGlyphs">u</tspan><tspan x="854.4" textLength="15.15" lengthAdjust="spacingAndGlyphs">t</tspan><tspan x="871.4" textLength="21.19" lengthAdjust="spacingAndGlyphs">a</tspan><tspan x="895.6" textLength="40.69" lengthAdjust="spacingAndGlyphs">m</tspan><tspan x="936.8" textLength="21.19" lengthAdjust="spacingAndGlyphs">a</tspan><tspan x="961.8" textLength="15.15" lengthAdjust="spacingAndGlyphs">t</tspan><tspan x="977.9" textLength="25.47" lengthAdjust="spacingAndGlyphs">e</tspan><tspan x="1003.5" textLength="12.64" lengthAdjust="spacingAndGlyphs">,</tspan><tspan x="1027.3" textLength="12.64" lengthAdjust="spacingAndGlyphs">i</tspan><tspan x="1039.8" textLength="20.20" lengthAdjust="spacingAndGlyphs">s</tspan><tspan x="1059.5" textLength="27.35" lengthAdjust="spacingAndGlyphs">o</tspan><tspan x="1086.5" textLength="12.56" lengthAdjust="spacingAndGlyphs">l</tspan><tspan x="1098.7" textLength="25.47" lengthAdjust="spacingAndGlyphs">e</tspan><tspan x="1124.0" textLength="26.81" lengthAdjust="spacingAndGlyphs">u</tspan><tspan x="1150.7" textLength="21.74" lengthAdjust="spacingAndGlyphs">c</tspan><tspan x="1171.6" textLength="12.64" lengthAdjust="spacingAndGlyphs">i</tspan><tspan x="1184.2" textLength="26.81" lengthAdjust="spacingAndGlyphs">n</tspan><tspan x="1210.7" textLength="25.47" lengthAdjust="spacingAndGlyphs">e</tspan><tspan x="1236.3" textLength="12.64" lengthAdjust="spacingAndGlyphs">,</tspan><tspan x="1261.0" textLength="21.19" lengthAdjust="spacingAndGlyphs">a</tspan><tspan x="1284.9" textLength="12.56" lengthAdjust="spacingAndGlyphs">l</tspan><tspan x="1297.9" textLength="21.19" lengthAdjust="spacingAndGlyphs">a</tspan><tspan x="1322.1" textLength="26.81" lengthAdjust="spacingAndGlyphs">n</tspan><tspan x="1348.6" textLength="12.64" lengthAdjust="spacingAndGlyphs">i</tspan><tspan x="1361.2" textLength="26.81" lengthAdjust="spacingAndGlyphs">n</tspan><tspan x="1387.6" textLength="25.47" lengthAdjust="spacingAndGlyphs">e</tspan><tspan x="1425.0" textLength="21.19" lengthAdjust="spacingAndGlyphs">a</tspan><tspan x="1449.2" textLength="26.81" lengthAdjust="spacingAndGlyphs">n</tspan><tspan x="1475.6" textLength="26.99" lengthAdjust="spacingAndGlyphs">d</tspan><tspan x="1514.1" textLength="40.69" lengthAdjust="spacingAndGlyphs">m</tspan><tspan x="1554.4" textLength="25.47" lengthAdjust="spacingAndGlyphs">e</tspan><tspan x="1580.8" textLength="15.15" lengthAdjust="spacingAndGlyphs">t</tspan><tspan x="1597.2" textLength="27.02" lengthAdjust="spacingAndGlyphs">h</tspan><tspan x="1623.8" textLength="12.64" lengthAdjust="spacingAndGlyphs">i</tspan><tspan x="1636.1" textLength="27.35" lengthAdjust="spacingAndGlyphs">o</tspan><tspan x="1663.3" textLength="26.81" lengthAdjust="spacingAndGlyphs">n</tspan><tspan x="1689.8" textLength="12.64" lengthAdjust="spacingAndGlyphs">i</tspan><tspan x="1702.4" textLength="26.81" lengthAdjust="spacingAndGlyphs">n</tspan><tspan x="1728.9" textLength="25.47" lengthAdjust="spacingAndGlyphs">e</tspan><tspan x="1754.7" textLength="12.64" lengthAdjust="spacingAndGlyphs">.</tspan></text>
<text y="2477.80" font-size="45.50" fill="#000"><tspan x="300.3" textLength="22.70" lengthAdjust="spacingAndGlyphs">F</tspan><tspan x="322.9" textLength="12.64" lengthAdjust="spacingAndGlyphs">.</tspan><tspan x="357.3" textLength="26.08" lengthAdjust="spacingAndGlyphs">Y</tspan><tspan x="382.4" textLength="26.74" lengthAdjust="spacingAndGlyphs">o</tspan><tspan x="409.0" textLength="25.92" lengthAdjust="spacingAndGlyphs">u</tspan><tspan x="436.3" textLength="15.15" lengthAdjust="spacingAndGlyphs">r</tspan><tspan x="464.6" textLength="10.11" lengthAdjust="spacingAndGlyphs">l</tspan><tspan x="475.9" textLength="20.38" lengthAdjust="spacingAndGlyphs">a</tspan><tspan x="499.9" textLength="25.91" lengthAdjust="spacingAndGlyphs">b</tspan><tspan x="526.1" textLength="39.42" lengthAdjust="spacingAndGlyphs">m</tspan><tspan x="566.1" textLength="20.38" lengthAdjust="spacingAndGlyphs">a</tspan><tspan x="591.4" textLength="12.64" lengthAdjust="spacingAndGlyphs">t</tspan><tspan x="606.2" textLength="25.17" lengthAdjust="spacingAndGlyphs">e</tspan><tspan x="631.1" textLength="12.64" lengthAdjust="spacingAndGlyphs">,</tspan><tspan x="655.6" textLength="18.53" lengthAdjust="spacingAndGlyphs">s</tspan><tspan x="674.3" textLength="26.74" lengthAdjust="spacingAndGlyphs">o</tspan><tspan x="702.0" textLength="15.15" lengthAdjust="spacingAndGlyphs">r</tspan><tspan x="719.4" textLength="15.15" lengthAdjust="spacingAndGlyphs">r</tspan><tspan x="735.9" textLength="22.22" lengthAdjust="spacingAndGlyphs">y</tspan><tspan x="758.1" textLength="15.92" lengthAdjust="spacingAndGlyphs">-</tspan><tspan x="774.0" textLength="25.92" lengthAdjust="spacingAndGlyphs">n</tspan><tspan x="799.7" textLength="26.74" lengthAdjust="spacingAndGlyphs">o</tspan><tspan x="828.1" textLength="12.64" lengthAdjust="spacingAndGlyphs">t</tspan><tspan x="842.7" textLength="15.92" lengthAdjust="spacingAndGlyphs">-</tspan><tspan x="859.0" textLength="18.53" lengthAdjust="spacingAndGlyphs">s</tspan><tspan x="877.7" textLength="26.74" lengthAdjust="spacingAndGlyphs">o</tspan><tspan x="905.4" textLength="15.15" lengthAdjust="spacingAndGlyphs">r</tspan><tspan x="922.8" textLength="15.15" lengthAdjust="spacingAndGlyphs">r</tspan><tspan x="939.3" textLength="22.22" lengthAdjust="spacingAndGlyphs">y</tspan><tspan x="973.7" textLength="18.53" lengthAdjust="spacingAndGlyphs">s</tspan><tspan x="992.9" textLength="26.01" lengthAdjust="spacingAndGlyphs">h</tspan><tspan x="1018.8" textLength="25.17" lengthAdjust="spacingAndGlyphs">e</tspan><tspan x="1054.9" textLength="25.91" lengthAdjust="spacingAndGlyphs">d</tspan><tspan x="1082.0" textLength="10.11" lengthAdjust="spacingAndGlyphs">i</tspan><tspan x="1092.7" textLength="25.91" lengthAdjust="spacingAndGlyphs">d</tspan><tspan x="1132.2" textLength="12.64" lengthAdjust="spacingAndGlyphs">t</tspan><tspan x="1147.4" textLength="26.01" lengthAdjust="spacingAndGlyphs">h</tspan><tspan x="1173.3" textLength="25.17" lengthAdjust="spacingAndGlyphs">e</tspan><tspan x="1209.2" textLength="26.09" lengthAdjust="spacingAndGlyphs">g</tspan><tspan x="1233.0" textLength="25.17" lengthAdjust="spacingAndGlyphs">e</tspan><tspan x="1258.7" textLength="10.11" lengthAdjust="spacingAndGlyphs">l</tspan><tspan x="1281.9" textLength="12.64" lengthAdjust="spacingAndGlyphs">f</tspan><tspan x="1296.7" textLength="10.11" lengthAdjust="spacingAndGlyphs">i</tspan><tspan x="1308.2" textLength="10.11" lengthAdjust="spacingAndGlyphs">l</tspan><tspan x="1320.8" textLength="12.64" lengthAdjust="spacingAndGlyphs">t</tspan><tspan x="1336.9" textLength="15.15" lengthAdjust="spacingAndGlyphs">r</tspan><tspan x="1353.7" textLength="20.38" lengthAdjust="spacingAndGlyphs">a</tspan><tspan x="1379.0" textLength="12.64" lengthAdjust="spacingAndGlyphs">t</tspan><tspan x="1394.5" textLength="10.11" lengthAdjust="spacingAndGlyphs">i</tspan><tspan x="1405.2" textLength="26.74" lengthAdjust="spacingAndGlyphs">o</tspan><tspan x="1432.0" textLength="25.92" lengthAdjust="spacingAndGlyphs">n</tspan><tspan x="1469.2" textLength="25.17" lengthAdjust="spacingAndGlyphs">e</tspan><tspan x="1494.2" textLength="21.48" lengthAdjust="spacingAndGlyphs">x</tspan><tspan x="1516.2" textLength="26.00" lengthAdjust="spacingAndGlyphs">p</tspan><tspan x="1542.0" textLength="25.17" lengthAdjust="spacingAndGlyphs">e</tspan><tspan x="1568.1" textLength="15.15" lengthAdjust="spacingAndGlyphs">r</tspan><tspan x="1585.1" textLength="10.11" lengthAdjust="spacingAndGlyphs">i</tspan><tspan x="1596.3" textLength="39.42" lengthAdjust="spacingAndGlyphs">m</tspan><tspan x="1635.7" textLength="25.17" lengthAdjust="spacingAndGlyphs">e</tspan><tspan x="1661.0" textLength="25.92" lengthAdjust="spacingAndGlyphs">n</tspan><tspan x="1688.8" textLength="12.64" lengthAdjust="spacingAndGlyphs">t</tspan><tspan x="1715.7" textLength="10.11" lengthAdjust="spacingAndGlyphs">i</tspan><tspan x="1726.8" textLength="25.92" lengthAdjust="spacingAndGlyphs">n</tspan><tspan x="1765.9" textLength="12.64" lengthAdjust="spacingAndGlyphs">t</tspan><tspan x="1781.1" textLength="26.01" lengthAdjust="spacingAndGlyphs">h</tspan><tspan x="1807.0" textLength="25.17" lengthAdjust="spacingAndGlyphs">e</tspan><tspan x="1843.5" textLength="26.01" lengthAdjust="spacingAndGlyphs">h</tspan><tspan x="1870.2" textLength="10.11" lengthAdjust="spacingAndGlyphs">i</tspan><tspan x="1880.6" textLength="26.09" lengthAdjust="spacingAndGlyphs">g</tspan><tspan x="1904.8" textLength="26.01" lengthAdjust="spacingAndGlyphs">h</tspan><tspan x="1942.8" textLength="18.53" lengthAdjust="spacingAndGlyphs">s</tspan><tspan x="1962.2" textLength="20.38" lengthAdjust="spacingAndGlyphs">a</tspan><tspan x="1986.3" textLength="10.11" lengthAdjust="spacingAndGlyphs">l</tspan><tspan x="1998.9" textLength="12.64" lengthAdjust="spacingAndGlyphs">t</tspan><tspan x="2025.7" textLength="25.91" lengthAdjust="spacingAndGlyphs">b</tspan><tspan x="2051.4" textLength="25.92" lengthAdjust="spacingAndGlyphs">u</tspan><tspan x="2078.8" textLength="12.64" lengthAdjust="spacingAndGlyphs">f</tspan><tspan x="2094.0" textLength="12.64" lengthAdjust="spacingAndGlyphs">f</tspan><tspan x="2108.1" textLength="25.17" lengthAdjust="spacingAndGlyphs">e</tspan><tspan x="2134.2" textLength="15.15" lengthAdjust="spacingAndGlyphs">r</tspan></text>
<text y="2538.80" font-size="45.50" fill="#000"><tspan x="300.3" textLength="25.92" lengthAdjust="spacingAndGlyphs">n</tspan><tspan x="326.1" textLength="26.74" lengthAdjust="spacingAndGlyphs">o</tspan><tspan x="353.2" textLength="34.53" lengthAdjust="spacingAndGlyphs">w</tspan><tspan x="400.1" textLength="39.42" lengthAdjust="spacingAndGlyphs">m</tspan><tspan x="440.1" textLength="20.38" lengthAdjust="spacingAndGlyphs">a</tspan><tspan x="463.8" textLength="21.88" lengthAdjust="spacingAndGlyphs">k</tspan><tspan x="486.2" textLength="25.17" lengthAdjust="spacingAndGlyphs">e</tspan><tspan x="511.9" textLength="18.53" lengthAdjust="spacingAndGlyphs">s</tspan><tspan x="543.9" textLength="12.64" lengthAdjust="spacingAndGlyphs">t</tspan><tspan x="559.4" textLength="34.53" lengthAdjust="spacingAndGlyphs">w</tspan><tspan x="594.3" textLength="26.74" lengthAdjust="spacingAndGlyphs">o</tspan><tspan x="632.9" textLength="18.53" lengthAdjust="spacingAndGlyphs">s</tspan><tspan x="651.8" textLength="25.92" lengthAdjust="spacingAndGlyphs">u</tspan><tspan x="677.6" textLength="26.09" lengthAdjust="spacingAndGlyphs">g</tspan><tspan x="701.2" textLength="26.09" lengthAdjust="spacingAndGlyphs">g</tspan><tspan x="725.0" textLength="25.17" lengthAdjust="spacingAndGlyphs">e</tspan><tspan x="750.7" textLength="18.53" lengthAdjust="spacingAndGlyphs">s</tspan><tspan x="771.4" textLength="12.64" lengthAdjust="spacingAndGlyphs">t</tspan><tspan x="786.9" textLength="10.11" lengthAdjust="spacingAndGlyphs">i</tspan><tspan x="797.6" textLength="26.74" lengthAdjust="spacingAndGlyphs">o</tspan><tspan x="824.4" textLength="25.92" lengthAdjust="spacingAndGlyphs">n</tspan><tspan x="851.1" textLength="18.53" lengthAdjust="spacingAndGlyphs">s</tspan><tspan x="869.9" textLength="12.64" lengthAdjust="spacingAndGlyphs">.</tspan><tspan x="904.6" textLength="23.67" lengthAdjust="spacingAndGlyphs">S</tspan><tspan x="928.4" textLength="26.01" lengthAdjust="spacingAndGlyphs">h</tspan><tspan x="954.3" textLength="25.17" lengthAdjust="spacingAndGlyphs">e</tspan><tspan x="991.3" textLength="18.53" lengthAdjust="spacingAndGlyphs">s</tspan><tspan x="1010.2" textLength="25.92" lengthAdjust="spacingAndGlyphs">u</tspan><tspan x="1036.0" textLength="26.09" lengthAdjust="spacingAndGlyphs">g</tspan><tspan x="1059.6" textLength="26.09" lengthAdjust="spacingAndGlyphs">g</tspan><tspan x="1083.4" textLength="25.17" lengthAdjust="spacingAndGlyphs">e</tspan><tspan x="1109.1" textLength="18.53" lengthAdjust="spacingAndGlyphs">s</tspan><tspan x="1129.8" textLength="12.64" lengthAdjust="spacingAndGlyphs">t</tspan><tspan x="1145.4" textLength="18.53" lengthAdjust="spacingAndGlyphs">s</tspan><tspan x="1175.7" textLength="22.22" lengthAdjust="spacingAndGlyphs">y</tspan><tspan x="1198.0" textLength="26.74" lengthAdjust="spacingAndGlyphs">o</tspan><tspan x="1224.6" textLength="25.92" lengthAdjust="spacingAndGlyphs">u</tspan><tspan x="1263.2" textLength="15.15" lengthAdjust="spacingAndGlyphs">r</tspan><tspan x="1279.4" textLength="25.17" lengthAdjust="spacingAndGlyphs">e</tspan><tspan x="1304.9" textLength="20.38" lengthAdjust="spacingAndGlyphs">a</tspan><tspan x="1328.2" textLength="21.43" lengthAdjust="spacingAndGlyphs">c</tspan><tspan x="1351.4" textLength="12.64" lengthAdjust="spacingAndGlyphs">t</tspan><tspan x="1377.9" textLength="25.92" lengthAdjust="spacingAndGlyphs">n</tspan><tspan x="1404.3" textLength="20.38" lengthAdjust="spacingAndGlyphs">a</tspan><tspan x="1429.6" textLength="12.64" lengthAdjust="spacingAndGlyphs">t</tspan><tspan x="1445.2" textLength="10.11" lengthAdjust="spacingAndGlyphs">i</tspan><tspan x="1456.3" textLength="21.96" lengthAdjust="spacingAndGlyphs">v</tspan><tspan x="1478.5" textLength="25.17" lengthAdjust="spacingAndGlyphs">e</tspan><tspan x="1515.9" textLength="15.15" lengthAdjust="spacingAndGlyphs">r</tspan><tspan x="1532.1" textLength="25.17" lengthAdjust="spacingAndGlyphs">e</tspan><tspan x="1557.8" textLength="18.53" lengthAdjust="spacingAndGlyphs">s</tspan><tspan x="1577.3" textLength="10.11" lengthAdjust="spacingAndGlyphs">i</tspan><tspan x="1588.8" textLength="10.11" lengthAdjust="spacingAndGlyphs">l</tspan><tspan x="1600.2" textLength="10.11" lengthAdjust="spacingAndGlyphs">i</tspan><tspan x="1611.4" textLength="25.92" lengthAdjust="spacingAndGlyphs">n</tspan><tspan x="1649.2" textLength="34.53" lengthAdjust="spacingAndGlyphs">w</tspan><tspan x="1685.0" textLength="10.11" lengthAdjust="spacingAndGlyphs">i</tspan><tspan x="1697.7" textLength="12.64" lengthAdjust="spacingAndGlyphs">t</tspan><tspan x="1712.8" textLength="26.01" lengthAdjust="spacingAndGlyphs">h</tspan><tspan x="1750.5" textLength="22.70" lengthAdjust="spacingAndGlyphs">F</tspan><tspan x="1773.0" textLength="31.35" lengthAdjust="spacingAndGlyphs">D</tspan><tspan x="1803.8" textLength="32.38" lengthAdjust="spacingAndGlyphs">N</tspan><tspan x="1836.4" textLength="26.99" lengthAdjust="spacingAndGlyphs">B</tspan><tspan x="1875.2" textLength="20.38" lengthAdjust="spacingAndGlyphs">a</tspan><tspan x="1898.2" textLength="26.09" lengthAdjust="spacingAndGlyphs">g</tspan><tspan x="1922.7" textLength="20.38" lengthAdjust="spacingAndGlyphs">a</tspan><tspan x="1946.8" textLength="10.11" lengthAdjust="spacingAndGlyphs">i</tspan><tspan x="1957.9" textLength="25.92" lengthAdjust="spacingAndGlyphs">n</tspan><tspan x="1983.8" textLength="12.64" lengthAdjust="spacingAndGlyphs">.</tspan><tspan x="2018.5" textLength="23.67" lengthAdjust="spacingAndGlyphs">S</tspan><tspan x="2042.3" textLength="26.01" lengthAdjust="spacingAndGlyphs">h</tspan><tspan x="2068.2" textLength="25.17" lengthAdjust="spacingAndGlyphs">e</tspan><tspan x="2105.2" textLength="18.53" lengthAdjust="spacingAndGlyphs">s</tspan><tspan x="2124.6" textLength="20.38" lengthAdjust="spacingAndGlyphs">a</tspan><tspan x="2148.2" textLength="22.22" lengthAdjust="spacingAndGlyphs">y</tspan><tspan x="2171.3" textLength="18.53" lengthAdjust="spacingAndGlyphs">s</tspan></text>
<text y="2599.80" font-size="45.50" fill="#000"><tspan x="300.2" textLength="22.22" lengthAdjust="spacingAndGlyphs">y</tspan><tspan x="322.4" textLength="26.74" lengthAdjust="spacingAndGlyphs">o</tspan><tspan x="349.0" textLength="25.92" lengthAdjust="spacingAndGlyphs">u</tspan><tspan x="387.2" textLength="18.53" lengthAdjust="spacingAndGlyphs">s</tspan><tspan x="406.4" textLength="26.01" lengthAdjust="spacingAndGlyphs">h</tspan><tspan x="432.2" textLength="26.74" lengthAdjust="spacingAndGlyphs">o</tspan><tspan x="458.8" textLength="25.92" lengthAdjust="spacingAndGlyphs">u</tspan><tspan x="485.7" textLength="10.11" lengthAdjust="spacingAndGlyphs">l</tspan><tspan x="496.4" textLength="25.91" lengthAdjust="spacingAndGlyphs">d</tspan><tspan x="533.7" textLength="26.09" lengthAdjust="spacingAndGlyphs">g</tspan><tspan x="557.5" textLength="25.17" lengthAdjust="spacingAndGlyphs">e</tspan><tspan x="584.3" textLength="12.64" lengthAdjust="spacingAndGlyphs">t</tspan><tspan x="611.0" textLength="20.38" lengthAdjust="spacingAndGlyphs">a</tspan><tspan x="646.8" textLength="24.22" lengthAdjust="spacingAndGlyphs">1</tspan><tspan x="671.4" textLength="12.64" lengthAdjust="spacingAndGlyphs">:</tspan><tspan x="685.1" textLength="24.77" lengthAdjust="spacingAndGlyphs">3</tspan><tspan x="721.6" textLength="39.42" lengthAdjust="spacingAndGlyphs">m</tspan><tspan x="760.9" textLength="26.74" lengthAdjust="spacingAndGlyphs">o</tspan><tspan x="788.1" textLength="10.11" lengthAdjust="spacingAndGlyphs">l</tspan><tspan x="799.4" textLength="20.38" lengthAdjust="spacingAndGlyphs">a</tspan><tspan x="824.0" textLength="15.15" lengthAdjust="spacingAndGlyphs">r</tspan><tspan x="852.8" textLength="15.15" lengthAdjust="spacingAndGlyphs">r</tspan><tspan x="869.6" textLength="20.38" lengthAdjust="spacingAndGlyphs">a</tspan><tspan x="894.9" textLength="12.64" lengthAdjust="spacingAndGlyphs">t</tspan><tspan x="910.4" textLength="10.11" lengthAdjust="spacingAndGlyphs">i</tspan><tspan x="921.1" textLength="26.74" lengthAdjust="spacingAndGlyphs">o</tspan><tspan x="958.7" textLength="26.74" lengthAdjust="spacingAndGlyphs">o</tspan><tspan x="986.4" textLength="12.64" lengthAdjust="spacingAndGlyphs">f</tspan><tspan x="1013.7" textLength="12.64" lengthAdjust="spacingAndGlyphs">t</tspan><tspan x="1028.8" textLength="26.01" lengthAdjust="spacingAndGlyphs">h</tspan><tspan x="1054.8" textLength="25.17" lengthAdjust="spacingAndGlyphs">e</tspan><tspan x="1092.1" textLength="12.64" lengthAdjust="spacingAndGlyphs">f</tspan><tspan x="1106.1" textLength="26.74" lengthAdjust="spacingAndGlyphs">o</tspan><tspan x="1133.3" textLength="10.11" lengthAdjust="spacingAndGlyphs">l</tspan><tspan x="1144.8" textLength="10.11" lengthAdjust="spacingAndGlyphs">l</tspan><tspan x="1155.4" textLength="26.74" lengthAdjust="spacingAndGlyphs">o</tspan><tspan x="1182.6" textLength="34.53" lengthAdjust="spacingAndGlyphs">w</tspan><tspan x="1218.4" textLength="10.11" lengthAdjust="spacingAndGlyphs">i</tspan><tspan x="1229.5" textLength="25.92" lengthAdjust="spacingAndGlyphs">n</tspan><tspan x="1255.1" textLength="26.09" lengthAdjust="spacingAndGlyphs">g</tspan><tspan x="1290.1" textLength="31.35" lengthAdjust="spacingAndGlyphs">D</tspan><tspan x="1321.0" textLength="32.38" lengthAdjust="spacingAndGlyphs">N</tspan><tspan x="1353.7" textLength="25.91" lengthAdjust="spacingAndGlyphs">P</tspan><tspan x="1390.3" textLength="25.91" lengthAdjust="spacingAndGlyphs">d</tspan><tspan x="1416.7" textLength="25.17" lengthAdjust="spacingAndGlyphs">e</tspan><tspan x="1442.7" textLength="15.15" lengthAdjust="spacingAndGlyphs">r</tspan><tspan x="1459.7" textLength="10.11" lengthAdjust="spacingAndGlyphs">i</tspan><tspan x="1470.8" textLength="21.96" lengthAdjust="spacingAndGlyphs">v</tspan><tspan x="1493.6" textLength="20.38" lengthAdjust="spacingAndGlyphs">a</tspan><tspan x="1518.9" textLength="12.64" lengthAdjust="spacingAndGlyphs">t</tspan><tspan x="1534.5" textLength="10.11" lengthAdjust="spacingAndGlyphs">i</tspan><tspan x="1545.6" textLength="21.96" lengthAdjust="spacingAndGlyphs">v</tspan><tspan x="1567.8" textLength="25.17" lengthAdjust="spacingAndGlyphs">e</tspan><tspan x="1593.4" textLength="18.53" lengthAdjust="spacingAndGlyphs">s</tspan><tspan x="1612.3" textLength="12.64" lengthAdjust="spacingAndGlyphs">,</tspan><tspan x="1636.2" textLength="28.73" lengthAdjust="spacingAndGlyphs">A</tspan><tspan x="1676.8" textLength="20.38" lengthAdjust="spacingAndGlyphs">a</tspan><tspan x="1700.6" textLength="25.92" lengthAdjust="spacingAndGlyphs">n</tspan><tspan x="1726.4" textLength="25.91" lengthAdjust="spacingAndGlyphs">d</tspan><tspan x="1764.3" textLength="26.99" lengthAdjust="spacingAndGlyphs">B</tspan><tspan x="1791.3" textLength="12.64" lengthAdjust="spacingAndGlyphs">.</tspan></text>
<text y="2599.80" font-size="45.50" font-weight="bold" fill="#000"><tspan x="1826.4" textLength="23.67" lengthAdjust="spacingAndGlyphs">S</tspan><tspan x="1850.1" textLength="27.02" lengthAdjust="spacingAndGlyphs">h</tspan><tspan x="1876.8" textLength="25.47" lengthAdjust="spacingAndGlyphs">e</tspan><tspan x="1913.3" textLength="21.74" lengthAdjust="spacingAndGlyphs">c</tspan><tspan x="1934.3" textLength="12.56" lengthAdjust="spacingAndGlyphs">l</tspan><tspan x="1947.3" textLength="21.19" lengthAdjust="spacingAndGlyphs">a</tspan><tspan x="1971.2" textLength="12.64" lengthAdjust="spacingAndGlyphs">i</tspan><tspan x="1983.8" textLength="40.69" lengthAdjust="spacingAndGlyphs">m</tspan><tspan x="2024.3" textLength="20.20" lengthAdjust="spacingAndGlyphs">s</tspan><tspan x="2056.5" textLength="15.15" lengthAdjust="spacingAndGlyphs">t</tspan><tspan x="2072.9" textLength="27.02" lengthAdjust="spacingAndGlyphs">h</tspan><tspan x="2099.5" textLength="12.64" lengthAdjust="spacingAndGlyphs">i</tspan><tspan x="2112.0" textLength="20.20" lengthAdjust="spacingAndGlyphs">s</tspan><tspan x="2143.6" textLength="36.68" lengthAdjust="spacingAndGlyphs">w</tspan><tspan x="2180.3" textLength="12.64" lengthAdjust="spacingAndGlyphs">i</tspan><tspan x="2192.7" textLength="12.56" lengthAdjust="spacingAndGlyphs">l</tspan><tspan x="2205.0" textLength="12.56" lengthAdjust="spacingAndGlyphs">l</tspan></text>
<text y="2660.80" font-size="45.50" font-weight="bold" fill="#000"><tspan x="299.8" textLength="21.74" lengthAdjust="spacingAndGlyphs">c</tspan><tspan x="320.7" textLength="27.35" lengthAdjust="spacingAndGlyphs">o</tspan><tspan x="347.9" textLength="26.81" lengthAdjust="spacingAndGlyphs">n</tspan><tspan x="374.7" textLength="15.15" lengthAdjust="spacingAndGlyphs">f</tspan><tspan x="390.3" textLength="12.64" lengthAdjust="spacingAndGlyphs">i</tspan><tspan x="402.6" textLength="17.71" lengthAdjust="spacingAndGlyphs">r</tspan><tspan x="420.6" textLength="40.69" lengthAdjust="spacingAndGlyphs">m</tspan><tspan x="472.2" textLength="23.93" lengthAdjust="spacingAndGlyphs">y</tspan><tspan x="495.9" textLength="27.35" lengthAdjust="spacingAndGlyphs">o</tspan><tspan x="522.9" textLength="26.81" lengthAdjust="spacingAndGlyphs">u</tspan><tspan x="549.7" textLength="17.71" lengthAdjust="spacingAndGlyphs">r</tspan><tspan x="578.8" textLength="17.71" lengthAdjust="spacingAndGlyphs">r</tspan><tspan x="596.5" textLength="25.47" lengthAdjust="spacingAndGlyphs">e</tspan><tspan x="621.9" textLength="20.20" lengthAdjust="spacingAndGlyphs">s</tspan><tspan x="641.7" textLength="26.81" lengthAdjust="spacingAndGlyphs">u</tspan><tspan x="668.6" textLength="12.56" lengthAdjust="spacingAndGlyphs">l</tspan><tspan x="681.9" textLength="15.15" lengthAdjust="spacingAndGlyphs">t</tspan><tspan x="698.3" textLength="20.20" lengthAdjust="spacingAndGlyphs">s</tspan><tspan x="718.6" textLength="12.64" lengthAdjust="spacingAndGlyphs">.</tspan><tspan x="753.2" textLength="32.48" lengthAdjust="spacingAndGlyphs">A</tspan><tspan x="784.2" textLength="26.99" lengthAdjust="spacingAndGlyphs">d</tspan><tspan x="811.1" textLength="26.99" lengthAdjust="spacingAndGlyphs">d</tspan><tspan x="838.0" textLength="12.64" lengthAdjust="spacingAndGlyphs">i</tspan><tspan x="851.4" textLength="15.15" lengthAdjust="spacingAndGlyphs">t</tspan><tspan x="867.6" textLength="12.64" lengthAdjust="spacingAndGlyphs">i</tspan><tspan x="879.8" textLength="27.35" lengthAdjust="spacingAndGlyphs">o</tspan><tspan x="907.1" textLength="26.81" lengthAdjust="spacingAndGlyphs">n</tspan><tspan x="934.4" textLength="21.19" lengthAdjust="spacingAndGlyphs">a</tspan><tspan x="958.3" textLength="12.56" lengthAdjust="spacingAndGlyphs">l</tspan><tspan x="970.6" textLength="12.56" lengthAdjust="spacingAndGlyphs">l</tspan><tspan x="982.7" textLength="23.93" lengthAdjust="spacingAndGlyphs">y</tspan><tspan x="1018.0" textLength="20.20" lengthAdjust="spacingAndGlyphs">s</tspan><tspan x="1037.9" textLength="27.02" lengthAdjust="spacingAndGlyphs">h</tspan><tspan x="1064.5" textLength="25.47" lengthAdjust="spacingAndGlyphs">e</tspan><tspan x="1101.2" textLength="20.20" lengthAdjust="spacingAndGlyphs">s</tspan><tspan x="1121.1" textLength="26.81" lengthAdjust="spacingAndGlyphs">u</tspan><tspan x="1147.4" textLength="26.75" lengthAdjust="spacingAndGlyphs">g</tspan><tspan x="1171.1" textLength="26.75" lengthAdjust="spacingAndGlyphs">g</tspan><tspan x="1195.2" textLength="25.47" lengthAdjust="spacingAndGlyphs">e</tspan><tspan x="1220.6" textLength="20.20" lengthAdjust="spacingAndGlyphs">s</tspan><tspan x="1241.5" textLength="15.15" lengthAdjust="spacingAndGlyphs">t</tspan><tspan x="1257.9" textLength="20.20" lengthAdjust="spacingAndGlyphs">s</tspan><tspan x="1290.1" textLength="15.15" lengthAdjust="spacingAndGlyphs">t</tspan><tspan x="1306.4" textLength="27.02" lengthAdjust="spacingAndGlyphs">h</tspan><tspan x="1334.0" textLength="21.19" lengthAdjust="spacingAndGlyphs">a</tspan><tspan x="1358.9" textLength="15.15" lengthAdjust="spacingAndGlyphs">t</tspan><tspan x="1386.4" textLength="12.64" lengthAdjust="spacingAndGlyphs">i</tspan><tspan x="1399.0" textLength="15.15" lengthAdjust="spacingAndGlyphs">f</tspan><tspan x="1426.2" textLength="26.81" lengthAdjust="spacingAndGlyphs">n</tspan><tspan x="1452.6" textLength="27.35" lengthAdjust="spacingAndGlyphs">o</tspan><tspan x="1490.9" textLength="12.56" lengthAdjust="spacingAndGlyphs">l</tspan><tspan x="1503.1" textLength="23.93" lengthAdjust="spacingAndGlyphs">y</tspan><tspan x="1527.0" textLength="20.20" lengthAdjust="spacingAndGlyphs">s</tspan><tspan x="1546.8" textLength="12.64" lengthAdjust="spacingAndGlyphs">i</tspan><tspan x="1559.4" textLength="26.81" lengthAdjust="spacingAndGlyphs">n</tspan><tspan x="1585.8" textLength="25.47" lengthAdjust="spacingAndGlyphs">e</tspan><tspan x="1611.4" textLength="12.64" lengthAdjust="spacingAndGlyphs">,</tspan><tspan x="1635.4" textLength="27.02" lengthAdjust="spacingAndGlyphs">h</tspan><tspan x="1662.1" textLength="12.64" lengthAdjust="spacingAndGlyphs">i</tspan><tspan x="1674.5" textLength="20.20" lengthAdjust="spacingAndGlyphs">s</tspan><tspan x="1695.4" textLength="15.15" lengthAdjust="spacingAndGlyphs">t</tspan><tspan x="1711.6" textLength="12.64" lengthAdjust="spacingAndGlyphs">i</tspan><tspan x="1723.8" textLength="26.99" lengthAdjust="spacingAndGlyphs">d</tspan><tspan x="1750.7" textLength="12.64" lengthAdjust="spacingAndGlyphs">i</tspan><tspan x="1763.3" textLength="26.81" lengthAdjust="spacingAndGlyphs">n</tspan><tspan x="1789.8" textLength="25.47" lengthAdjust="spacingAndGlyphs">e</tspan><tspan x="1815.4" textLength="12.64" lengthAdjust="spacingAndGlyphs">,</tspan><tspan x="1840.1" textLength="21.19" lengthAdjust="spacingAndGlyphs">a</tspan><tspan x="1864.1" textLength="20.20" lengthAdjust="spacingAndGlyphs">s</tspan><tspan x="1884.1" textLength="27.02" lengthAdjust="spacingAndGlyphs">p</tspan><tspan x="1911.5" textLength="21.19" lengthAdjust="spacingAndGlyphs">a</tspan><tspan x="1935.4" textLength="17.71" lengthAdjust="spacingAndGlyphs">r</tspan><tspan x="1954.3" textLength="15.15" lengthAdjust="spacingAndGlyphs">t</tspan><tspan x="1971.3" textLength="21.19" lengthAdjust="spacingAndGlyphs">a</tspan><tspan x="1996.3" textLength="15.15" lengthAdjust="spacingAndGlyphs">t</tspan><tspan x="2012.4" textLength="25.47" lengthAdjust="spacingAndGlyphs">e</tspan><tspan x="2048.9" textLength="27.35" lengthAdjust="spacingAndGlyphs">o</tspan><tspan x="2075.9" textLength="17.71" lengthAdjust="spacingAndGlyphs">r</tspan></text>
<text y="2721.80" font-size="45.50" font-weight="bold" fill="#000"><tspan x="300.7" textLength="21.19" lengthAdjust="spacingAndGlyphs">a</tspan><tspan x="324.5" textLength="17.71" lengthAdjust="spacingAndGlyphs">r</tspan><tspan x="341.8" textLength="26.75" lengthAdjust="spacingAndGlyphs">g</tspan><tspan x="366.0" textLength="12.64" lengthAdjust="spacingAndGlyphs">i</tspan><tspan x="378.6" textLength="26.81" lengthAdjust="spacingAndGlyphs">n</tspan><tspan x="405.1" textLength="12.64" lengthAdjust="spacingAndGlyphs">i</tspan><tspan x="417.7" textLength="26.81" lengthAdjust="spacingAndGlyphs">n</tspan><tspan x="444.1" textLength="25.47" lengthAdjust="spacingAndGlyphs">e</tspan><tspan x="481.5" textLength="21.19" lengthAdjust="spacingAndGlyphs">a</tspan><tspan x="505.4" textLength="17.71" lengthAdjust="spacingAndGlyphs">r</tspan><tspan x="523.1" textLength="25.47" lengthAdjust="spacingAndGlyphs">e</tspan><tspan x="559.9" textLength="27.02" lengthAdjust="spacingAndGlyphs">p</tspan><tspan x="586.5" textLength="17.71" lengthAdjust="spacingAndGlyphs">r</tspan><tspan x="604.1" textLength="25.47" lengthAdjust="spacingAndGlyphs">e</tspan><tspan x="629.5" textLength="20.20" lengthAdjust="spacingAndGlyphs">s</tspan><tspan x="649.3" textLength="25.47" lengthAdjust="spacingAndGlyphs">e</tspan><tspan x="674.8" textLength="26.81" lengthAdjust="spacingAndGlyphs">n</tspan><tspan x="702.5" textLength="15.15" lengthAdjust="spacingAndGlyphs">t</tspan><tspan x="719.0" textLength="12.64" lengthAdjust="spacingAndGlyphs">,</tspan><tspan x="743.0" textLength="20.20" lengthAdjust="spacingAndGlyphs">s</tspan><tspan x="762.9" textLength="26.81" lengthAdjust="spacingAndGlyphs">u</tspan><tspan x="789.9" textLength="26.99" lengthAdjust="spacingAndGlyphs">b</tspan><tspan x="816.5" textLength="26.81" lengthAdjust="spacingAndGlyphs">u</tspan><tspan x="843.6" textLength="26.81" lengthAdjust="spacingAndGlyphs">n</tspan><tspan x="870.1" textLength="12.64" lengthAdjust="spacingAndGlyphs">i</tspan><tspan x="883.5" textLength="15.15" lengthAdjust="spacingAndGlyphs">t</tspan><tspan x="911.6" textLength="27.81" lengthAdjust="spacingAndGlyphs">B</tspan><tspan x="950.5" textLength="20.20" lengthAdjust="spacingAndGlyphs">s</tspan><tspan x="970.5" textLength="27.02" lengthAdjust="spacingAndGlyphs">h</tspan><tspan x="997.1" textLength="27.35" lengthAdjust="spacingAndGlyphs">o</tspan><tspan x="1024.1" textLength="26.81" lengthAdjust="spacingAndGlyphs">u</tspan><tspan x="1050.9" textLength="12.56" lengthAdjust="spacingAndGlyphs">l</tspan><tspan x="1063.1" textLength="26.99" lengthAdjust="spacingAndGlyphs">d</tspan><tspan x="1101.6" textLength="26.99" lengthAdjust="spacingAndGlyphs">b</tspan><tspan x="1128.1" textLength="12.64" lengthAdjust="spacingAndGlyphs">i</tspan><tspan x="1140.7" textLength="26.81" lengthAdjust="spacingAndGlyphs">n</tspan><tspan x="1167.1" textLength="26.99" lengthAdjust="spacingAndGlyphs">d</tspan><tspan x="1206.2" textLength="21.19" lengthAdjust="spacingAndGlyphs">a</tspan><tspan x="1241.3" textLength="21.74" lengthAdjust="spacingAndGlyphs">c</tspan><tspan x="1263.1" textLength="21.19" lengthAdjust="spacingAndGlyphs">a</tspan><tspan x="1288.1" textLength="15.15" lengthAdjust="spacingAndGlyphs">t</tspan><tspan x="1304.3" textLength="12.64" lengthAdjust="spacingAndGlyphs">i</tspan><tspan x="1316.5" textLength="27.35" lengthAdjust="spacingAndGlyphs">o</tspan><tspan x="1343.8" textLength="26.81" lengthAdjust="spacingAndGlyphs">n</tspan><tspan x="1381.5" textLength="25.47" lengthAdjust="spacingAndGlyphs">e</tspan><tspan x="1407.0" textLength="22.77" lengthAdjust="spacingAndGlyphs">x</tspan><tspan x="1429.7" textLength="21.74" lengthAdjust="spacingAndGlyphs">c</tspan><tspan x="1450.8" textLength="27.02" lengthAdjust="spacingAndGlyphs">h</tspan><tspan x="1478.3" textLength="21.19" lengthAdjust="spacingAndGlyphs">a</tspan><tspan x="1502.5" textLength="26.81" lengthAdjust="spacingAndGlyphs">n</tspan><tspan x="1528.5" textLength="26.75" lengthAdjust="spacingAndGlyphs">g</tspan><tspan x="1552.6" textLength="25.47" lengthAdjust="spacingAndGlyphs">e</tspan><tspan x="1577.9" textLength="17.71" lengthAdjust="spacingAndGlyphs">r</tspan><tspan x="1607.8" textLength="21.19" lengthAdjust="spacingAndGlyphs">a</tspan><tspan x="1632.8" textLength="15.15" lengthAdjust="spacingAndGlyphs">t</tspan><tspan x="1660.5" textLength="27.02" lengthAdjust="spacingAndGlyphs">p</tspan><tspan x="1687.2" textLength="27.02" lengthAdjust="spacingAndGlyphs">h</tspan><tspan x="1713.8" textLength="23.93" lengthAdjust="spacingAndGlyphs">y</tspan><tspan x="1737.8" textLength="20.20" lengthAdjust="spacingAndGlyphs">s</tspan><tspan x="1757.5" textLength="12.64" lengthAdjust="spacingAndGlyphs">i</tspan><tspan x="1769.8" textLength="27.35" lengthAdjust="spacingAndGlyphs">o</tspan><tspan x="1796.8" textLength="12.56" lengthAdjust="spacingAndGlyphs">l</tspan><tspan x="1808.9" textLength="27.35" lengthAdjust="spacingAndGlyphs">o</tspan><tspan x="1835.4" textLength="26.75" lengthAdjust="spacingAndGlyphs">g</tspan><tspan x="1859.6" textLength="12.64" lengthAdjust="spacingAndGlyphs">i</tspan><tspan x="1871.9" textLength="21.74" lengthAdjust="spacingAndGlyphs">c</tspan><tspan x="1893.6" textLength="21.19" lengthAdjust="spacingAndGlyphs">a</tspan><tspan x="1917.5" textLength="12.56" lengthAdjust="spacingAndGlyphs">l</tspan><tspan x="1941.3" textLength="27.02" lengthAdjust="spacingAndGlyphs">p</tspan><tspan x="1967.9" textLength="31.97" lengthAdjust="spacingAndGlyphs">H</tspan><tspan x="2011.6" textLength="21.19" lengthAdjust="spacingAndGlyphs">a</tspan><tspan x="2035.7" textLength="26.81" lengthAdjust="spacingAndGlyphs">n</tspan><tspan x="2062.2" textLength="26.99" lengthAdjust="spacingAndGlyphs">d</tspan><tspan x="2101.5" textLength="15.15" lengthAdjust="spacingAndGlyphs">t</tspan><tspan x="2117.9" textLength="27.02" lengthAdjust="spacingAndGlyphs">h</tspan><tspan x="2144.6" textLength="26.81" lengthAdjust="spacingAndGlyphs">u</tspan><tspan x="2171.5" textLength="20.20" lengthAdjust="spacingAndGlyphs">s</tspan></text>
<text y="2782.80" font-size="45.50" font-weight="bold" fill="#000"><tspan x="299.7" textLength="25.47" lengthAdjust="spacingAndGlyphs">e</tspan><tspan x="325.1" textLength="12.56" lengthAdjust="spacingAndGlyphs">l</tspan><tspan x="337.3" textLength="26.81" lengthAdjust="spacingAndGlyphs">u</tspan><tspan x="365.2" textLength="15.15" lengthAdjust="spacingAndGlyphs">t</tspan><tspan x="381.4" textLength="25.47" lengthAdjust="spacingAndGlyphs">e</tspan><tspan x="418.1" textLength="20.20" lengthAdjust="spacingAndGlyphs">s</tspan><tspan x="437.8" textLength="25.47" lengthAdjust="spacingAndGlyphs">e</tspan><tspan x="463.3" textLength="27.02" lengthAdjust="spacingAndGlyphs">p</tspan><tspan x="490.7" textLength="21.19" lengthAdjust="spacingAndGlyphs">a</tspan><tspan x="514.6" textLength="17.71" lengthAdjust="spacingAndGlyphs">r</tspan><tspan x="533.2" textLength="21.19" lengthAdjust="spacingAndGlyphs">a</tspan><tspan x="558.1" textLength="15.15" lengthAdjust="spacingAndGlyphs">t</tspan><tspan x="574.3" textLength="25.47" lengthAdjust="spacingAndGlyphs">e</tspan><tspan x="599.6" textLength="12.56" lengthAdjust="spacingAndGlyphs">l</tspan><tspan x="611.7" textLength="23.93" lengthAdjust="spacingAndGlyphs">y</tspan><tspan x="647.0" textLength="15.15" lengthAdjust="spacingAndGlyphs">f</tspan><tspan x="662.6" textLength="17.71" lengthAdjust="spacingAndGlyphs">r</tspan><tspan x="680.3" textLength="27.35" lengthAdjust="spacingAndGlyphs">o</tspan><tspan x="707.5" textLength="40.69" lengthAdjust="spacingAndGlyphs">m</tspan><tspan x="759.4" textLength="20.20" lengthAdjust="spacingAndGlyphs">s</tspan><tspan x="779.2" textLength="26.81" lengthAdjust="spacingAndGlyphs">u</tspan><tspan x="806.3" textLength="26.99" lengthAdjust="spacingAndGlyphs">b</tspan><tspan x="832.9" textLength="26.81" lengthAdjust="spacingAndGlyphs">u</tspan><tspan x="860.0" textLength="26.81" lengthAdjust="spacingAndGlyphs">n</tspan><tspan x="886.5" textLength="12.64" lengthAdjust="spacingAndGlyphs">i</tspan><tspan x="899.9" textLength="15.15" lengthAdjust="spacingAndGlyphs">t</tspan><tspan x="926.6" textLength="32.48" lengthAdjust="spacingAndGlyphs">A</tspan><tspan x="958.3" textLength="12.64" lengthAdjust="spacingAndGlyphs">.</tspan><tspan x="994.3" textLength="12.43" lengthAdjust="spacingAndGlyphs">I</tspan><tspan x="1007.1" textLength="20.20" lengthAdjust="spacingAndGlyphs">s</tspan><tspan x="1038.4" textLength="20.20" lengthAdjust="spacingAndGlyphs">s</tspan><tspan x="1058.3" textLength="27.02" lengthAdjust="spacingAndGlyphs">h</tspan><tspan x="1085.0" textLength="25.47" lengthAdjust="spacingAndGlyphs">e</tspan><tspan x="1121.5" textLength="17.71" lengthAdjust="spacingAndGlyphs">r</tspan><tspan x="1139.3" textLength="12.64" lengthAdjust="spacingAndGlyphs">i</tspan><tspan x="1151.1" textLength="26.75" lengthAdjust="spacingAndGlyphs">g</tspan><tspan x="1175.4" textLength="27.02" lengthAdjust="spacingAndGlyphs">h</tspan><tspan x="1203.2" textLength="15.15" lengthAdjust="spacingAndGlyphs">t</tspan><tspan x="1230.7" textLength="27.35" lengthAdjust="spacingAndGlyphs">o</tspan><tspan x="1257.9" textLength="26.81" lengthAdjust="spacingAndGlyphs">n</tspan><tspan x="1296.0" textLength="26.99" lengthAdjust="spacingAndGlyphs">b</tspan><tspan x="1322.5" textLength="27.35" lengthAdjust="spacingAndGlyphs">o</tspan><tspan x="1350.6" textLength="15.15" lengthAdjust="spacingAndGlyphs">t</tspan><tspan x="1366.9" textLength="27.02" lengthAdjust="spacingAndGlyphs">h</tspan><tspan x="1404.9" textLength="21.74" lengthAdjust="spacingAndGlyphs">c</tspan><tspan x="1425.8" textLength="27.35" lengthAdjust="spacingAndGlyphs">o</tspan><tspan x="1452.8" textLength="26.81" lengthAdjust="spacingAndGlyphs">u</tspan><tspan x="1479.9" textLength="26.81" lengthAdjust="spacingAndGlyphs">n</tspan><tspan x="1507.5" textLength="15.15" lengthAdjust="spacingAndGlyphs">t</tspan><tspan x="1523.9" textLength="20.20" lengthAdjust="spacingAndGlyphs">s</tspan><tspan x="1544.6" textLength="22.22" lengthAdjust="spacingAndGlyphs">?</tspan></text>
<rect x="298" y="849" width="3.8" height="968" fill="#d0d0d0"/>
<rect x="298" y="849" width="1503" height="2.2" fill="#d0d0d0"/>
<rect x="1798.8" y="849" width="2.5" height="968" fill="#d0d0d0"/>
<rect x="298" y="1814.7" width="1503" height="2.2" fill="#d0d0d0"/>
<text y="941.80" font-size="52.50" fill="#595959"><tspan x="497.8" textLength="27.31" lengthAdjust="spacingAndGlyphs">S</tspan><tspan x="527.2" textLength="14.59" lengthAdjust="spacingAndGlyphs">t</tspan><tspan x="545.0" textLength="23.58" lengthAdjust="spacingAndGlyphs">a</tspan><tspan x="572.5" textLength="29.99" lengthAdjust="spacingAndGlyphs">n</tspan><tspan x="602.3" textLength="29.97" lengthAdjust="spacingAndGlyphs">d</tspan><tspan x="633.5" textLength="23.58" lengthAdjust="spacingAndGlyphs">a</tspan><tspan x="661.9" textLength="17.48" lengthAdjust="spacingAndGlyphs">r</tspan><tspan x="680.6" textLength="29.97" lengthAdjust="spacingAndGlyphs">d</tspan><tspan x="723.9" textLength="31.73" lengthAdjust="spacingAndGlyphs">C</tspan><tspan x="755.1" textLength="29.99" lengthAdjust="spacingAndGlyphs">u</tspan><tspan x="786.8" textLength="17.48" lengthAdjust="spacingAndGlyphs">r</tspan><tspan x="806.0" textLength="25.40" lengthAdjust="spacingAndGlyphs">v</tspan><tspan x="831.7" textLength="29.13" lengthAdjust="spacingAndGlyphs">e</tspan><tspan x="874.9" textLength="14.59" lengthAdjust="spacingAndGlyphs">f</tspan><tspan x="892.6" textLength="17.48" lengthAdjust="spacingAndGlyphs">r</tspan><tspan x="911.3" textLength="30.94" lengthAdjust="spacingAndGlyphs">o</tspan><tspan x="942.5" textLength="45.60" lengthAdjust="spacingAndGlyphs">m</tspan><tspan x="1000.7" textLength="27.31" lengthAdjust="spacingAndGlyphs">S</tspan><tspan x="1027.7" textLength="36.27" lengthAdjust="spacingAndGlyphs">D</tspan><tspan x="1062.8" textLength="27.31" lengthAdjust="spacingAndGlyphs">S</tspan><tspan x="1089.7" textLength="18.42" lengthAdjust="spacingAndGlyphs">-</tspan><tspan x="1108.2" textLength="29.98" lengthAdjust="spacingAndGlyphs">P</tspan><tspan x="1137.7" textLength="33.24" lengthAdjust="spacingAndGlyphs">A</tspan><tspan x="1170.9" textLength="37.29" lengthAdjust="spacingAndGlyphs">G</tspan><tspan x="1208.1" textLength="27.31" lengthAdjust="spacingAndGlyphs">E</tspan></text>
<line x1="498" y1="1002.7" x2="498" y2="1632.7" stroke="#bfbfbf" stroke-width="3.6"/>
<line x1="496.4" y1="1631" x2="1730.6" y2="1631" stroke="#bfbfbf" stroke-width="3.6"/>
<text y="1642.30" font-size="34.50" fill="#595959"><tspan x="442.8" textLength="19.85" lengthAdjust="spacingAndGlyphs">0</tspan></text>
<text y="1537.66" font-size="34.50" fill="#595959"><tspan x="415.6" textLength="19.85" lengthAdjust="spacingAndGlyphs">0</tspan><tspan x="435.0" textLength="9.59" lengthAdjust="spacingAndGlyphs">.</tspan><tspan x="444.9" textLength="17.70" lengthAdjust="spacingAndGlyphs">5</tspan></text>
<text y="1433.03" font-size="34.50" fill="#595959"><tspan x="444.7" textLength="18.16" lengthAdjust="spacingAndGlyphs">1</tspan></text>
<text y="1328.39" font-size="34.50" fill="#595959"><tspan x="416.8" textLength="18.16" lengthAdjust="spacingAndGlyphs">1</tspan><tspan x="435.0" textLength="9.59" lengthAdjust="spacingAndGlyphs">.</tspan><tspan x="444.9" textLength="17.70" lengthAdjust="spacingAndGlyphs">5</tspan></text>
<text y="1223.76" font-size="34.50" fill="#595959"><tspan x="443.8" textLength="19.20" lengthAdjust="spacingAndGlyphs">2</tspan></text>
<text y="1119.12" font-size="34.50" fill="#595959"><tspan x="416.0" textLength="19.20" lengthAdjust="spacingAndGlyphs">2</tspan><tspan x="435.0" textLength="9.59" lengthAdjust="spacingAndGlyphs">.</tspan><tspan x="444.9" textLength="17.70" lengthAdjust="spacingAndGlyphs">5</tspan></text>
<text y="1014.49" font-size="34.50" fill="#595959"><tspan x="444.2" textLength="18.58" lengthAdjust="spacingAndGlyphs">3</tspan></text>
<text y="1689.80" font-size="34.50" fill="#595959"><tspan x="487.6" textLength="19.85" lengthAdjust="spacingAndGlyphs">0</tspan></text>
<text y="1689.80" font-size="34.50" fill="#595959"><tspan x="649.9" textLength="19.85" lengthAdjust="spacingAndGlyphs">0</tspan><tspan x="669.2" textLength="9.59" lengthAdjust="spacingAndGlyphs">.</tspan><tspan x="678.7" textLength="19.20" lengthAdjust="spacingAndGlyphs">2</tspan></text>
<text y="1689.80" font-size="34.50" fill="#595959"><tspan x="825.6" textLength="19.85" lengthAdjust="spacingAndGlyphs">0</tspan><tspan x="845.0" textLength="9.59" lengthAdjust="spacingAndGlyphs">.</tspan><tspan x="854.3" textLength="19.58" lengthAdjust="spacingAndGlyphs">4</tspan></text>
<text y="1689.80" font-size="34.50" fill="#595959"><tspan x="1002.2" textLength="19.85" lengthAdjust="spacingAndGlyphs">0</tspan><tspan x="1021.5" textLength="9.59" lengthAdjust="spacingAndGlyphs">.</tspan><tspan x="1031.0" textLength="19.31" lengthAdjust="spacingAndGlyphs">6</tspan></text>
<text y="1689.80" font-size="34.50" fill="#595959"><tspan x="1178.5" textLength="19.85" lengthAdjust="spacingAndGlyphs">0</tspan><tspan x="1197.8" textLength="9.59" lengthAdjust="spacingAndGlyphs">.</tspan><tspan x="1207.4" textLength="18.97" lengthAdjust="spacingAndGlyphs">8</tspan></text>
<text y="1689.80" font-size="34.50" fill="#595959"><tspan x="1369.1" textLength="18.16" lengthAdjust="spacingAndGlyphs">1</tspan></text>
<text y="1689.80" font-size="34.50" fill="#595959"><tspan x="1531.0" textLength="18.16" lengthAdjust="spacingAndGlyphs">1</tspan><tspan x="1549.2" textLength="9.59" lengthAdjust="spacingAndGlyphs">.</tspan><tspan x="1558.7" textLength="19.20" lengthAdjust="spacingAndGlyphs">2</tspan></text>
<text y="1689.80" font-size="34.50" fill="#595959"><tspan x="1706.7" textLength="18.16" lengthAdjust="spacingAndGlyphs">1</tspan><tspan x="1724.9" textLength="9.59" lengthAdjust="spacingAndGlyphs">.</tspan><tspan x="1734.3" textLength="19.58" lengthAdjust="spacingAndGlyphs">4</tspan></text>
<text y="1752.30" font-size="37.50" fill="#595959"><tspan x="958.4" textLength="23.14" lengthAdjust="spacingAndGlyphs">R</tspan><tspan x="980.6" textLength="20.98" lengthAdjust="spacingAndGlyphs">e</tspan><tspan x="1002.0" textLength="8.33" lengthAdjust="spacingAndGlyphs">l</tspan><tspan x="1011.4" textLength="16.98" lengthAdjust="spacingAndGlyphs">a</tspan><tspan x="1032.5" textLength="10.42" lengthAdjust="spacingAndGlyphs">t</tspan><tspan x="1045.5" textLength="8.33" lengthAdjust="spacingAndGlyphs">i</tspan><tspan x="1054.7" textLength="18.30" lengthAdjust="spacingAndGlyphs">v</tspan><tspan x="1073.2" textLength="20.98" lengthAdjust="spacingAndGlyphs">e</tspan><tspan x="1103.7" textLength="34.99" lengthAdjust="spacingAndGlyphs">M</tspan><tspan x="1139.6" textLength="8.33" lengthAdjust="spacingAndGlyphs">i</tspan><tspan x="1148.3" textLength="21.74" lengthAdjust="spacingAndGlyphs">g</tspan><tspan x="1169.2" textLength="12.49" lengthAdjust="spacingAndGlyphs">r</tspan><tspan x="1183.2" textLength="16.98" lengthAdjust="spacingAndGlyphs">a</tspan><tspan x="1204.3" textLength="10.42" lengthAdjust="spacingAndGlyphs">t</tspan><tspan x="1217.3" textLength="8.33" lengthAdjust="spacingAndGlyphs">i</tspan><tspan x="1226.1" textLength="22.29" lengthAdjust="spacingAndGlyphs">o</tspan><tspan x="1248.5" textLength="21.60" lengthAdjust="spacingAndGlyphs">n</tspan></text>
<g transform="translate(391.8,1316.9) rotate(-90)"><text y="0.00" font-size="37.50" fill="#595959"><tspan x="-110.9" textLength="8.33" lengthAdjust="spacingAndGlyphs">l</tspan><tspan x="-102.1" textLength="22.29" lengthAdjust="spacingAndGlyphs">o</tspan><tspan x="-80.3" textLength="21.74" lengthAdjust="spacingAndGlyphs">g</tspan><tspan x="-60.0" textLength="34.99" lengthAdjust="spacingAndGlyphs">M</tspan><tspan x="-24.7" textLength="36.89" lengthAdjust="spacingAndGlyphs">W</tspan><tspan x="22.9" textLength="9.74" lengthAdjust="spacingAndGlyphs">(</tspan><tspan x="34.5" textLength="18.23" lengthAdjust="spacingAndGlyphs">k</tspan><tspan x="53.2" textLength="26.12" lengthAdjust="spacingAndGlyphs">D</tspan><tspan x="79.4" textLength="16.98" lengthAdjust="spacingAndGlyphs">a</tspan><tspan x="100.7" textLength="9.74" lengthAdjust="spacingAndGlyphs">)</tspan></text></g>
<line x1="717.77" y1="1137.20" x2="1554.82" y2="1554.85" stroke="#4472c4" stroke-width="6.3" stroke-dasharray="0.01 12.5" stroke-linecap="round"/>
<circle cx="717.8" cy="1128.5" r="12.2" fill="#4472c4"/>
<circle cx="805.9" cy="1170.3" r="12.2" fill="#4472c4"/>
<circle cx="858.8" cy="1212.2" r="12.2" fill="#4472c4"/>
<circle cx="894.0" cy="1233.1" r="12.2" fill="#4472c4"/>
<circle cx="982.1" cy="1274.9" r="12.2" fill="#4472c4"/>
<circle cx="1052.6" cy="1316.8" r="12.2" fill="#4472c4"/>
<circle cx="1131.9" cy="1337.7" r="12.2" fill="#4472c4"/>
<circle cx="1180.4" cy="1369.1" r="12.2" fill="#4472c4"/>
<circle cx="1211.2" cy="1379.6" r="12.2" fill="#4472c4"/>
<circle cx="1290.5" cy="1421.4" r="12.2" fill="#4472c4"/>
<circle cx="1378.6" cy="1473.7" r="12.2" fill="#4472c4"/>
<circle cx="1554.8" cy="1547.0" r="12.2" fill="#4472c4"/>
<text y="1207.30" font-size="34.50" fill="#595959"><tspan x="1281.4" textLength="16.48" lengthAdjust="spacingAndGlyphs">y</tspan><tspan x="1306.6" textLength="18.09" lengthAdjust="spacingAndGlyphs">=</tspan><tspan x="1333.1" textLength="11.81" lengthAdjust="spacingAndGlyphs">-</tspan><tspan x="1344.6" textLength="19.00" lengthAdjust="spacingAndGlyphs">2</tspan><tspan x="1363.3" textLength="9.59" lengthAdjust="spacingAndGlyphs">.</tspan><tspan x="1373.6" textLength="17.97" lengthAdjust="spacingAndGlyphs">1</tspan><tspan x="1391.2" textLength="19.64" lengthAdjust="spacingAndGlyphs">0</tspan><tspan x="1410.0" textLength="19.64" lengthAdjust="spacingAndGlyphs">0</tspan><tspan x="1429.3" textLength="18.77" lengthAdjust="spacingAndGlyphs">8</tspan><tspan x="1448.1" textLength="15.94" lengthAdjust="spacingAndGlyphs">x</tspan><tspan x="1471.7" textLength="20.16" lengthAdjust="spacingAndGlyphs">+</tspan><tspan x="1499.3" textLength="19.00" lengthAdjust="spacingAndGlyphs">2</tspan><tspan x="1518.0" textLength="9.59" lengthAdjust="spacingAndGlyphs">.</tspan><tspan x="1527.6" textLength="18.77" lengthAdjust="spacingAndGlyphs">8</tspan><tspan x="1546.4" textLength="18.77" lengthAdjust="spacingAndGlyphs">8</tspan><tspan x="1565.6" textLength="18.38" lengthAdjust="spacingAndGlyphs">3</tspan><tspan x="1583.8" textLength="19.37" lengthAdjust="spacingAndGlyphs">4</tspan></text>
<text y="1253.40" font-size="34.50" fill="#595959"><tspan x="1356.1" textLength="20.60" lengthAdjust="spacingAndGlyphs">R</tspan><tspan x="1377.1" textLength="10.14" lengthAdjust="spacingAndGlyphs">²</tspan><tspan x="1396.9" textLength="18.09" lengthAdjust="spacingAndGlyphs">=</tspan><tspan x="1423.2" textLength="19.64" lengthAdjust="spacingAndGlyphs">0</tspan><tspan x="1442.3" textLength="9.59" lengthAdjust="spacingAndGlyphs">.</tspan><tspan x="1452.6" textLength="18.26" lengthAdjust="spacingAndGlyphs">9</tspan><tspan x="1471.4" textLength="18.26" lengthAdjust="spacingAndGlyphs">9</tspan><tspan x="1489.3" textLength="19.10" lengthAdjust="spacingAndGlyphs">6</tspan><tspan x="1508.7" textLength="18.38" lengthAdjust="spacingAndGlyphs">3</tspan></text>
</svg></body></html>
